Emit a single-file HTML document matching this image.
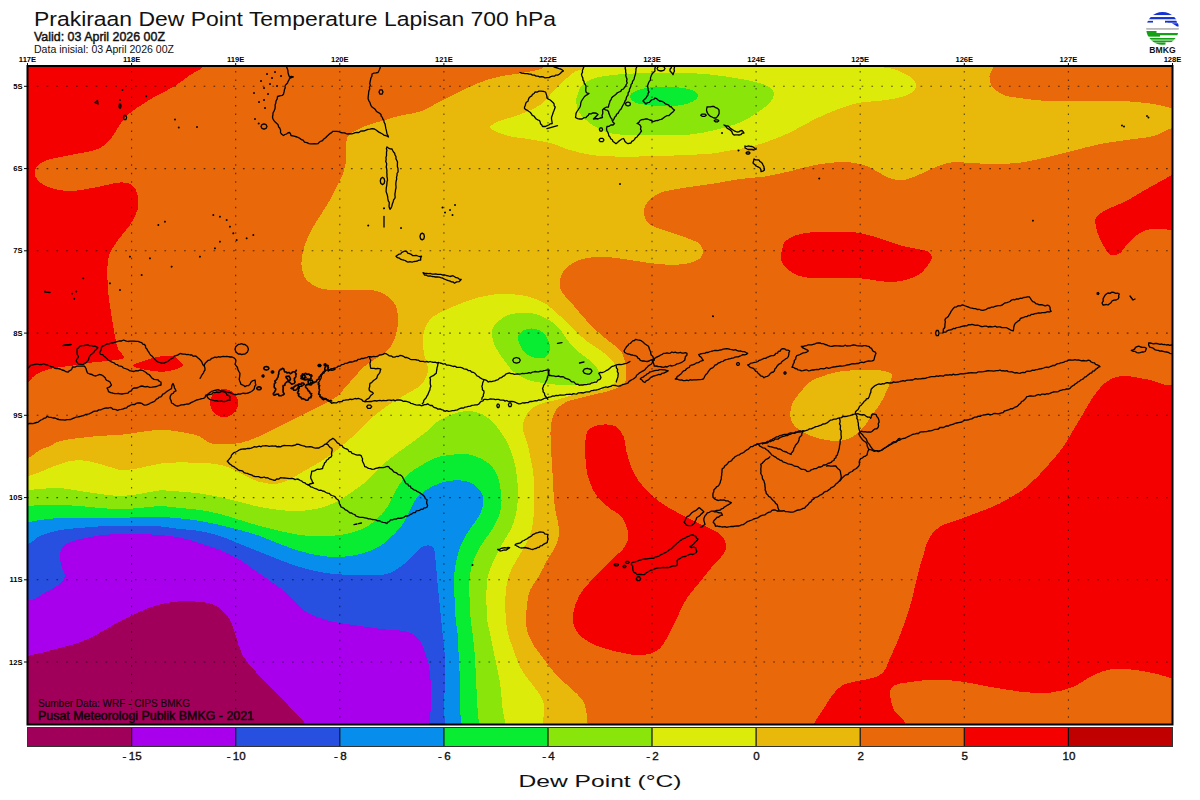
<!DOCTYPE html>
<html><head><meta charset="utf-8"><title>Prakiraan Dew Point</title>
<style>
html,body{margin:0;padding:0;background:#fff;}
body{width:1200px;height:800px;overflow:hidden;position:relative;font-family:"Liberation Sans",sans-serif;}
svg{position:absolute;left:0;top:0;}
.gv{stroke:#000;stroke-opacity:.62;stroke-width:1.1;stroke-dasharray:1.5 6.99;}
.gh{stroke:#000;stroke-opacity:.62;stroke-width:1.1;stroke-dasharray:1.7 8.12;}
.tl{font:bold 7.6px "Liberation Sans",sans-serif;text-anchor:middle;fill:#000;}
.ll{font:bold 7.6px "Liberation Sans",sans-serif;text-anchor:end;fill:#000;}
.cl{font:11.6px "Liberation Sans",sans-serif;text-anchor:middle;fill:#111;stroke:#111;stroke-width:0.35;}
.bm{font:bold 8.6px "Liberation Sans",sans-serif;text-anchor:middle;fill:#111;}
.coast{fill:none;stroke:#000;stroke-width:1.3;stroke-linejoin:round;stroke-linecap:round;}
</style></head>
<body>
<svg width="1200" height="800" viewBox="0 0 1200 800">
<defs><clipPath id="mc"><rect x="27.5" y="66" width="1145.0" height="658.5"/></clipPath></defs>
<g clip-path="url(#mc)">
<g shape-rendering="crispEdges">
<rect x="27.5" y="66" width="1145.0" height="658.5" fill="#e8680a"/>
<path d="M10 50C42.2 -8.3 170.8 47.3 203 50C235.2 52.7 205.7 61.8 203.5 66C201.3 70.2 194.8 71.7 190 75C185.2 78.3 180.8 82.4 175 86C169.2 89.6 161.2 92.9 155 96.5C148.8 100.1 142.5 104 137.5 107.5C132.5 111 128.5 113.8 125 117.5C121.5 121.2 119.4 125.8 116.5 130C113.6 134.2 111.1 139.2 107.5 142.5C103.9 145.8 101.2 147.9 95 150C88.8 152.1 78.3 153.2 70 155C61.7 156.8 50.8 158.5 45 161C39.2 163.5 36.2 166.8 35 170C33.8 173.2 35 177.1 37.5 180C40 182.9 44.6 185.7 50 187.5C55.4 189.3 62.5 191 70 191C77.5 191 86.7 188.9 95 187.5C103.3 186.1 113.8 182.8 120 182.5C126.2 182.2 129.6 183.4 132.5 185.5C135.4 187.6 136.7 190.9 137.5 195C138.3 199.1 138.8 205 137.5 210C136.2 215 133.2 220 130 225C126.8 230 121.3 235.3 118 240C114.7 244.7 111.8 248.7 110 253C108.2 257.3 107.9 261.5 107.5 266C107.1 270.5 107.3 274.9 107.5 280C107.7 285.1 108 290.4 108.7 296.7C109.4 303 110.8 311 111.8 317.6C112.8 324.2 114 331.1 115 336.3C116 341.5 116.6 345.4 118.1 348.9C119.6 352.4 124.7 355.6 124 357.5C123.3 359.4 119.1 359.5 113.9 360.3C108.7 361.1 100 361.5 93 362.4C86 363.3 79.2 364.6 72.2 365.6C65.2 366.7 57.2 367.3 51.3 368.7C45.4 370.1 40.5 371.6 36.7 373.9C32.9 376.2 31.1 379.3 28.3 382.3C25.5 385.3 23.1 389.1 20 392C16.9 394.9 11.7 457 10 400C8.3 343 -22.2 108.3 10 50Z" fill="#f40000"/>
<path d="M132.7 365.6C132.7 364 141 361.8 145.2 360.3C149.4 358.8 153.2 357.5 157.7 356.8C162.2 356.1 168.8 355.6 172.3 356.2C175.8 356.8 176.8 358.7 178.6 360.3C180.3 361.9 183.5 364 182.8 365.6C182.1 367.2 177.9 368.7 174.4 369.7C170.9 370.7 166.8 371.8 161.9 371.8C157 371.8 150.1 370.7 145.2 369.7C140.3 368.7 132.7 367.2 132.7 365.6Z" fill="#f40000"/>
<path d="M781.7 251.7C782.4 249.2 782.5 244.5 785 241.7C787.5 238.9 792.5 236.5 796.7 235C800.9 233.5 805 233.1 810 232.5C815 231.9 819.8 231.8 826.7 231.7C833.7 231.6 844.8 231.4 851.7 232C858.6 232.6 862.8 233.7 868.3 235C873.8 236.3 879.4 238.2 885 240C890.6 241.8 896.2 244.3 901.7 245.8C907.2 247.3 913.9 248.2 918.3 249.2C922.7 250.2 926.1 250.2 928.3 251.7C930.5 253.2 932 255.8 931.7 258.3C931.4 260.8 928.9 263.9 926.7 266.7C924.5 269.5 922.5 272.6 918.3 275C914.1 277.4 907.2 279.7 901.7 280.8C896.2 281.9 890.6 282 885 281.7C879.4 281.4 873.8 279.8 868.3 279.2C862.8 278.6 858.6 278.1 851.7 278C844.8 277.9 834.2 278.4 826.7 278.3C819.2 278.2 812.3 278.3 806.7 277.5C801.1 276.7 797.2 275.4 793.3 273.3C789.4 271.2 785.4 267.8 783.3 265C781.2 262.2 781.1 258.9 780.8 256.7C780.5 254.5 781 254.2 781.7 251.7Z" fill="#f40000"/>
<path d="M1190 165C1187 155.5 1176.8 172.3 1171.7 175.1C1166.6 177.9 1163.7 179.6 1159.3 182C1154.9 184.4 1150.2 187 1145.6 189.6C1141 192.2 1136.5 195.3 1131.9 197.8C1127.3 200.3 1122.5 202.6 1118.1 204.7C1113.7 206.8 1109.4 208 1105.7 210.2C1102 212.4 1097.7 214.8 1096.1 217.7C1094.5 220.6 1095.4 223.7 1096.1 227.4C1096.8 231.1 1098.6 236 1100.2 239.7C1101.8 243.3 1104 246.8 1105.7 249.3C1107.4 251.8 1108.2 254.1 1110.5 254.8C1112.8 255.5 1116.6 255.3 1119.5 253.5C1122.4 251.7 1124.5 247.1 1127.7 243.8C1130.9 240.5 1135 235.9 1138.7 233.5C1142.4 231.1 1145.1 230.1 1149.7 229.4C1154.3 228.7 1162.4 229.2 1166.2 229.4C1170 229.6 1168.4 230 1172.4 230.4C1176.4 230.8 1187.1 242.9 1190 232C1192.9 221.1 1193 174.5 1190 165Z" fill="#f40000"/>
<path d="M586 436C586.9 431.4 588.2 429.8 590.9 427.9C593.6 426 598.2 424.9 602.2 424.6C606.2 424.3 611.7 424.3 615.2 426.2C618.7 428.1 621.5 431.7 623.4 436C625.3 440.3 625 446.2 626.6 452.2C628.2 458.1 630.1 465.7 633.1 471.7C636.1 477.7 639.9 482.9 644.5 488C649.1 493.1 654.8 498.3 660.7 502.6C666.7 506.9 673.7 510.5 680.2 514C686.7 517.5 693.2 520.5 699.7 523.7C706.2 527 714.9 530.2 719.2 533.5C723.5 536.8 724.9 540 725.7 543.2C726.5 546.5 726.3 549.2 724.1 553C721.9 556.8 716.8 561.1 712.7 566C708.6 570.9 704 576.8 699.7 582.2C695.4 587.6 690.5 592.5 686.7 598.4C682.9 604.3 680.2 611.4 677 617.9C673.8 624.4 670.5 632 667.2 637.4C664 642.8 661.8 647.4 657.5 650.4C653.2 653.4 647.7 655 641.2 655.3C634.7 655.6 626.6 653.9 618.5 652C610.4 650.1 599.5 647.4 592.5 643.9C585.5 640.4 579.5 635.8 576.2 630.9C573 626 572.5 620.7 573 614.7C573.5 608.8 575.7 601.7 579.5 595.2C583.3 588.7 590.3 581.7 595.7 575.7C601.1 569.8 607.1 564.4 612 559.5C616.9 554.6 622.3 550.8 625 546.5C627.7 542.2 628.8 538.4 628.2 533.5C627.7 528.6 625 521.5 621.7 517.2C618.5 512.9 613 511.3 608.7 507.5C604.4 503.7 599.2 499.9 595.7 494.5C592.2 489.1 589.3 481.5 587.6 475C585.9 468.5 585.6 462 585.3 455.5C585 449 585.1 440.6 586 436Z" fill="#f40000"/>
<path d="M1190 370C1187 310.8 1178.4 383.3 1171.7 385C1165 386.7 1158.1 381.5 1150 380C1141.9 378.5 1130.5 375.7 1123.3 376C1116.1 376.3 1111.7 378.2 1106.7 381.7C1101.7 385.1 1097.2 391.4 1093.3 396.7C1089.4 402 1086.6 407.8 1083.3 413.3C1080 418.9 1076.6 424.4 1073.3 430C1070 435.6 1067.7 440.6 1063.3 446.7C1058.9 452.8 1052.8 460 1046.7 466.7C1040.6 473.4 1034.5 480.6 1026.7 486.7C1018.9 492.8 1010 498.3 1000 503.3C990 508.3 976.7 512.8 966.7 516.7C956.7 520.6 946.4 522.8 940 526.7C933.6 530.6 931.1 535 928.3 540C925.5 545 924.4 552.3 923 556.7C921.6 561.1 921.3 561.4 920 566.3C918.7 571.2 916.7 579.6 915 586.3C913.3 593 912 599.6 910 606.3C908 613 905.6 619.8 903.3 626.3C901 632.8 898.1 640 896 645C893.9 650 892.7 652 890.7 656.3C888.7 660.6 886.9 667.4 884.2 670.9C881.5 674.4 879.4 675.6 874.5 677.4C869.6 679.2 860.4 680.2 855 681.6C849.6 683 845.8 683.2 842 685.5C838.2 687.8 835.2 691.5 832.2 695.3C829.2 699.1 827.1 703.6 824.1 708.2C821.1 712.8 816.8 717.6 814.4 722.9C812 728.2 747.4 737.1 810 740C872.6 742.9 1126.7 801.7 1190 740C1253.3 678.3 1193 429.2 1190 370Z" fill="#f40000"/>
<path d="M908 740C860.6 737.1 907.7 727.9 905.4 722.9C903.1 717.9 896.5 714.5 894 709.9C891.5 705.3 890.1 699.4 890.1 695.3C890.1 691.2 890.1 687.8 894 685.5C897.9 683.2 906.5 682.6 913.5 681.6C920.5 680.6 928.1 679.6 936.2 679.6C944.3 679.6 953 680.4 962.2 681.6C971.4 682.9 981.2 685.4 991.5 687.1C1001.8 688.8 1014.2 691.1 1024 692C1033.8 692.9 1041.9 693.4 1050 692.6C1058.1 691.8 1065.7 689.9 1072.7 687.1C1079.7 684.3 1085.7 678.7 1092.2 675.7C1098.7 672.7 1104.7 670.2 1111.7 669.2C1118.8 668.2 1126.9 669.1 1134.5 669.9C1142.1 670.7 1151 672.7 1157.2 674.1C1163.4 675.5 1166.4 677 1171.9 678.3C1177.4 679.6 1187 671.7 1190 682C1193 692.3 1237 730.3 1190 740C1143 749.7 955.4 742.9 908 740Z" fill="#e8680a"/>
<path d="M543.8 50C618.8 47.2 918.4 47.4 993.3 50C1068.2 52.6 993.9 61.6 993.3 65.9C992.7 70.2 989.8 72.7 989.5 76C989.2 79.3 990.4 83.5 991.7 86C993 88.5 995.1 89.6 997.5 91.2C999.9 92.8 1002.3 94.7 1005.8 95.8C1009.3 96.8 1014.1 97.2 1018.3 97.8C1022.5 98.4 1026.1 99 1030.8 99.5C1035.5 100 1039.6 100.5 1046.7 100.8C1053.8 101 1064.4 101 1073.3 101C1082.2 101 1091.1 100.8 1100 100.8C1108.9 100.8 1117.8 100.8 1126.7 101.3C1135.6 101.8 1146 102.9 1153.3 104C1160.6 105.1 1164.6 106.7 1170.7 108C1176.8 109.3 1186.8 109 1190 112C1193.2 115 1192.9 123.3 1190 126C1187.1 128.7 1178.6 126.3 1172.5 128C1166.4 129.7 1160.9 134 1153.3 136C1145.7 138 1135.6 138.7 1126.7 140C1117.8 141.3 1108.9 142.2 1100 144C1091.1 145.8 1082.2 148.5 1073.3 150.7C1064.4 152.9 1055.6 155.3 1046.7 157.3C1037.8 159.3 1028.9 161.6 1020 162.7C1011.1 163.8 1002.2 164 993.3 164C984.4 164 973.4 163 966.7 162.7C960 162.4 957.8 161.7 953.3 162.1C948.8 162.5 944.9 163.6 940 165.3C935.1 167 929.3 170.2 924 172.5C918.7 174.8 912.5 177.8 908 179C903.5 180.2 900.8 180.3 897.3 180C893.8 179.7 890.7 178.8 886.7 177C882.7 175.2 877.8 171.5 873.3 169.3C868.8 167.1 865.5 165.2 860 164C854.5 162.8 847.5 161.8 840 162C832.5 162.2 823.3 163.5 815 165C806.7 166.5 798.3 169.3 790 171.2C781.7 173.2 773.3 175.2 765 176.5C756.7 177.8 747.8 177.9 740 179C732.2 180.1 724.9 181.7 718.1 182.8C711.3 183.9 705.6 184.7 699.4 185.6C693.1 186.5 686.9 187.3 680.6 188.4C674.4 189.5 666.9 190.5 661.9 192.2C656.9 193.9 653.4 196.5 650.6 198.8C647.8 201.2 646.1 203.8 645 206.3C643.9 208.8 643.8 211.3 644.1 213.8C644.4 216.3 645.2 219.1 646.9 221.3C648.6 223.5 650.3 225 654.4 226.9C658.5 228.8 665.4 230.5 671.3 232.5C677.2 234.5 685.3 237.2 690 239.1C694.7 241 697.2 241.8 699.4 243.8C701.6 245.8 703.1 248.8 703.1 251.3C703.1 253.8 701.9 256.8 699.4 258.8C696.9 260.8 692.8 262.4 688.1 263.4C683.4 264.4 677.2 264.8 671.3 264.8C665.4 264.8 658.8 264.1 652.5 263.4C646.2 262.7 640 261.5 633.8 260.6C627.5 259.7 621.2 258.4 615 257.8C608.8 257.2 602.5 256.4 596.3 256.9C590 257.4 582.8 258.4 577.5 260.6C572.2 262.8 567.4 266.6 564.4 270C561.4 273.4 560.1 277.6 559.7 281.3C559.3 285 559.6 287.9 562 292C564.4 296.1 570 301.3 574 306C578 310.7 582 315.7 586 320C590 324.3 594 328.3 598 332C602 335.7 606.3 339 610 342C613.7 345 617.7 347.3 620 350C622.3 352.7 623 355.3 624 358C625 360.7 625.7 363 626 366C626.3 369 626.3 373 626 376C625.7 379 626.3 381.7 624 384C621.7 386.3 616.7 388.3 612 390C607.3 391.7 601.3 392.7 596 394C590.7 395.3 585 396.7 580 398C575 399.3 570 400 566 402C562 404 558.3 407 556 410C553.7 413 552.9 416.3 552 420C551.1 423.7 550.6 426.8 550.5 432C550.4 437.2 550.8 445.1 551.1 451C551.4 456.9 551.9 462.1 552.2 467.6C552.6 473.2 552.9 478.9 553.2 484.3C553.5 489.7 553.5 494.9 554 500C554.5 505.1 555.3 510 556.2 515C557.1 520 559.2 525 559.2 530C559.2 535 558.2 540 556.2 545C554.2 550 550 555 547.2 560C544.5 565 542.6 570 539.7 575C536.8 580 532.1 585 530 590C527.9 595 527.6 600 527 605C526.4 610 526.1 615.3 526.2 620C526.3 624.7 526.4 628.8 527.8 633.2C529.2 637.6 532 642.5 534.4 646.5C536.8 650.5 539.8 653.6 542.4 657.1C545 660.6 547.4 664.2 550.3 667.7C553.2 671.2 556.1 674.8 559.6 678.3C563.1 681.8 567.8 685.4 571.5 688.9C575.2 692.4 579.7 696 582.1 699.5C584.5 703 585.2 706.1 586.1 710.1C587 714.1 587.1 718.3 587.4 723.3C587.7 728.3 684.2 737.2 588 740C491.8 742.8 106.3 786.3 10 740C-86.3 693.7 7 509 10 462C13 415 23 460 28 458C33 456 36.3 452 40 450C43.7 448 46.4 447.6 50 446C53.6 444.4 54.5 442.3 61.7 440.7C68.9 439.1 82.6 437.6 93 436.5C103.4 435.4 115.6 435.3 124.3 434.4C133 433.5 138.9 432.1 145.2 431.3C151.5 430.5 156.7 429.8 161.9 429.8C167.1 429.8 170.6 430.4 176.5 431.3C182.4 432.2 191.8 433.6 197.4 435.5C203 437.4 205.9 441.6 210 443C214.1 444.4 217 444 222 444C227 444 233.7 444.3 240 443C246.3 441.7 253.3 438.8 260 436C266.7 433.2 273.3 429.3 280 426C286.7 422.7 293.3 419.3 300 416C306.7 412.7 314 409.2 320 406C326 402.8 332.2 399.7 336 397C339.8 394.3 340.7 392.5 343 390C345.3 387.5 347.5 384.8 350 382C352.5 379.2 355.5 375.7 358 373C360.5 370.3 362.7 368 365 366C367.3 364 369.5 362.7 372 361C374.5 359.3 377.2 358 380 356C382.8 354 386.7 351.7 389 349C391.3 346.3 392.7 343.2 394 340C395.3 336.8 396.3 333.3 397 330C397.7 326.7 398 323.3 398 320C398 316.7 397.8 313.2 397 310C396.2 306.8 395.2 303.7 393 301C390.8 298.3 387.8 295.8 384 294C380.2 292.2 377.3 290.7 370 290C362.7 289.3 348.3 290.3 340 290C331.7 289.7 325.6 290 320 288.3C314.4 286.6 309.8 283.6 306.7 280C303.6 276.4 302.4 271.1 301.7 266.7C301 262.2 301.9 257.8 302.7 253.3C303.5 248.9 304.9 244.4 306.7 240C308.5 235.6 310.8 231.1 313.3 226.7C315.8 222.2 318.9 217.8 321.7 213.3C324.5 208.9 327.5 204.4 330 200C332.5 195.6 334.6 190.9 336.7 186.7C338.8 182.5 340.9 179.4 342.5 175C344.1 170.6 345.6 165 346.2 160C346.9 155 345.8 149.2 346.2 145C346.7 140.8 345.9 138.1 349 135C352.1 131.9 359 128.8 365 126.2C371 123.8 378.7 121.9 385 120C391.3 118.1 397.2 116.4 403 115C408.8 113.6 414.4 113.7 420 111.7C425.6 109.8 431.1 106.1 436.7 103.3C442.2 100.5 447.8 97.8 453.3 95C458.9 92.2 464.4 89.2 470 86.7C475.6 84.2 481.1 81.8 486.7 80C492.2 78.2 497.8 76.9 503.3 75.8C508.9 74.7 514.4 74.3 520 73.3C525.6 72.3 532.8 71.1 536.7 70C540.6 68.9 542.1 70 543.3 66.7C544.5 63.4 468.8 52.8 543.8 50Z" fill="#e8b80a"/>
<path d="M790.2 414C790.2 410.6 791 406.1 792.5 402.7C794 399.3 796.4 397.1 799.2 393.7C802 390.3 805.8 385.3 809.4 382.5C813 379.7 815.9 378.7 820.6 376.9C825.3 375.1 831.9 372.9 837.5 371.8C843.1 370.7 848.8 370.6 854.4 370.3C860 370 866.5 369.8 871.2 369.9C875.9 370 879.1 370 882.5 370.7C885.9 371.4 890.2 372.3 891.5 374.1C892.8 375.9 891.3 378.3 890.4 381.4C889.5 384.5 887.6 388.9 885.9 392.6C884.2 396.4 882.3 400.5 880.2 403.9C878.1 407.3 875.8 409.7 873.5 412.9C871.2 416.1 869 420 866.7 423C864.5 426 862.6 428.5 860 430.9C857.4 433.3 854.4 435.9 851 437.6C847.6 439.3 843.8 440.6 839.7 441C835.6 441.4 830.7 440.6 826.2 439.9C821.7 439.1 817.2 438.2 812.7 436.5C808.2 434.8 802.6 431.9 799.2 429.7C795.8 427.4 794 425.6 792.5 423C791 420.4 790.2 417.4 790.2 414Z" fill="#e8b80a"/>
<path d="M586 50C536.7 52.8 586.8 63.1 585 66.7C583.2 70.3 578 69.8 575 71.7C572 73.6 569.5 75.8 566.7 78.3C563.9 80.8 561.1 83.9 558.3 86.7C555.5 89.5 553 92 550 95C547 98 543.9 102.2 540 105C536.1 107.8 531.2 109.8 526.7 111.7C522.2 113.7 517.8 115.2 513.3 116.7C508.8 118.2 503.6 119.4 500 120.8C496.4 122.2 493.6 123.8 492 125C490.4 126.2 489.8 126.9 490.5 128C491.2 129.1 492.5 130.2 496 131.7C499.5 133.1 506.9 135.6 511.7 136.7C516.5 137.8 518.6 137.4 525 138.5C531.4 139.6 542.5 141.1 550 143C557.5 144.9 562.3 147.9 570 150C577.7 152.1 585.7 154.5 596.3 155.6C606.9 156.7 621.3 156.6 633.8 156.6C646.3 156.6 658.8 156.1 671.3 155.6C683.8 155.1 699.4 154.6 708.8 153.8C718.2 153 721.5 151.9 727.5 150.9C733.5 149.9 738.8 149.4 745 148C751.2 146.6 757.5 145.1 765 142.5C772.5 139.9 781.7 136.4 790 132.5C798.3 128.6 806.7 123 815 119C823.3 115 832.5 111.2 840 108.5C847.5 105.8 852.2 104.1 860 102.7C867.8 101.3 878.7 101.3 886.7 100C894.7 98.7 903.1 96.9 908 94.7C912.9 92.5 915.5 89.6 916 86.7C916.5 83.8 914.2 80.2 910.7 77.3C907.2 74.4 899.6 71.2 894.7 69.3C889.8 67.4 883.6 69.1 881.3 65.9C879 62.7 930.2 52.6 881 50C831.8 47.4 635.3 47.2 586 50Z" fill="#dceb0a"/>
<path d="M10 478C13 434 23 477 28 476C33 475 34.7 474 40 472C45.3 470 53.7 466 60 464C66.3 462 72 460.2 78 460C84 459.8 90.7 461.8 96 463C101.3 464.2 105.7 465.8 110 467C114.3 468.2 117 469.8 122 470C127 470.2 133.7 469.1 140 468C146.3 466.9 153.3 464.5 160 463.6C166.7 462.7 173.3 462.5 180 462.4C186.7 462.3 194 462.7 200 463C206 463.3 211 463.2 216 464C221 464.8 225 466 230 468C235 470 241 473.7 246 476C251 478.3 255 480.7 260 482C265 483.3 271.7 484.2 276 484C280.3 483.8 282.7 482.3 286 481C289.3 479.7 292.7 477.8 296 476C299.3 474.2 302 472.3 306 470C310 467.7 315.7 464.7 320 462C324.3 459.3 328 457 332 454C336 451 339.3 448 344 444C348.7 440 355 434.7 360 430C365 425.3 369 420.3 374 416C379 411.7 384 408 390 404C396 400 404.7 395.3 410 392C415.3 388.7 419 387.7 422 384C425 380.3 427.7 375 428 370C428.3 365 424.8 359.3 424 354C423.2 348.7 422.7 342.7 423 338C423.3 333.3 424.2 329.7 426 326C427.8 322.3 430 319 434 316C438 313 444 310.7 450 308C456 305.3 463.3 302.2 470 300C476.7 297.8 483.3 296 490 295C496.7 294 503.3 293.7 510 294C516.7 294.3 524 295.3 530 297C536 298.7 541 300.8 546 304C551 307.2 555.3 311.7 560 316C564.7 320.3 569.3 325.7 574 330C578.7 334.3 583.7 338.7 588 342C592.3 345.3 596.3 347.3 600 350C603.7 352.7 607.3 355.3 610 358C612.7 360.7 614.7 363 616 366C617.3 369 618.3 373 618 376C617.7 379 617 381.7 614 384C611 386.3 605 388.5 600 390C595 391.5 589 392 584 393C579 394 574.7 394.8 570 396C565.3 397.2 561 398.7 556 400C551 401.3 544.3 402.3 540 404C535.7 405.7 532.7 407.3 530 410C527.3 412.7 525.2 416.7 524 420C522.8 423.3 522.5 426.3 523 430C523.5 433.7 525.7 437 527 442C528.3 447 529.8 453.7 531 460C532.2 466.3 533.5 473.3 534 480C534.5 486.7 534.2 494.2 534.2 500C534.2 505.8 534.2 510 533.7 515C533.2 520 532.9 525 531.5 530C530.1 535 528 540 525.5 545C523 550 519.2 555 516.5 560C513.8 565 510.8 570 509 575C507.2 580 506.6 585 506 590C505.4 595 505.2 600 505.2 605C505.2 610 505.6 615.3 506 620C506.4 624.7 506.7 628.4 507.9 633.2C509.1 638.1 511.2 643.6 513.2 649.1C515.2 654.6 517.7 661.8 519.9 666.4C522.1 671 523.9 673.2 526.5 677C529.1 680.8 533.1 685.1 535.8 688.9C538.4 692.6 541 696 542.4 699.5C543.8 703 544.4 706.1 544.4 710.1C544.4 714.1 542.8 718.3 542.4 723.3C542 728.3 630.7 737.2 542 740C453.3 742.8 98.7 783.7 10 740C-78.7 696.3 7 522 10 478Z" fill="#dceb0a"/>
<path d="M577.5 95C578.5 92.1 579.2 87.9 582.5 85C585.8 82.1 590 79.4 597.5 77.5C605 75.6 616.2 74.6 627.5 73.8C638.8 72.9 652.5 72.5 665 72.5C677.5 72.5 690 72.7 702.5 73.8C715 74.8 729.6 76.9 740 78.8C750.4 80.6 759.4 82.7 765 85C770.6 87.3 772.9 89.6 773.8 92.5C774.6 95.4 772.7 99.2 770 102.5C767.3 105.8 762.5 109.2 757.5 112.5C752.5 115.8 747.1 119.6 740 122.5C732.9 125.4 723.3 128 715 130C706.7 132 699.2 133.7 690 134.5C680.8 135.3 670.4 134.9 660 135C649.6 135.1 636.2 135.4 627.5 135C618.8 134.6 613.3 134.2 607.5 132.5C601.7 130.8 597.1 128.1 592.5 125C587.9 121.9 582.7 117.5 580 113.8C577.3 110 576.7 105.6 576.2 102.5C575.8 99.4 576.5 97.9 577.5 95Z" fill="#8ae60a"/>
<path d="M492 336C491.7 332.3 491.7 329.3 494 326C496.3 322.7 501.7 318.2 506 316C510.3 313.8 515 313.3 520 313C525 312.7 530.7 312.5 536 314C541.3 315.5 547.7 319 552 322C556.3 325 558.7 328 562 332C565.3 336 568.3 342 572 346C575.7 350 580.3 353 584 356C587.7 359 591.3 361 594 364C596.7 367 599.3 371.5 600 374C600.7 376.5 600 377.5 598 379C596 380.5 591.7 382 588 383C584.3 384 580.7 384.7 576 385C571.3 385.3 565.3 385.3 560 385C554.7 384.7 549.3 383.8 544 383C538.7 382.2 533 381.8 528 380C523 378.2 518 375.3 514 372C510 368.7 507 364 504 360C501 356 498 352 496 348C494 344 492.3 339.7 492 336Z" fill="#8ae60a"/>
<path d="M10 490C13 448.3 23 490.2 28 490C33 489.8 34.7 489.3 40 489C45.3 488.7 53.3 487.7 60 488C66.7 488.3 73.3 490 80 491C86.7 492 93.3 493.2 100 494C106.7 494.8 113.3 496 120 496C126.7 496 133.3 494.9 140 494C146.7 493.1 153.3 490.8 160 490.4C166.7 490 173.3 491.1 180 491.6C186.7 492.1 193.3 492.6 200 493.5C206.7 494.4 213.3 495.6 220 497C226.7 498.4 233.3 500.3 240 502C246.7 503.7 253.3 505.7 260 507C266.7 508.3 273.3 509.3 280 510C286.7 510.7 293.3 511.3 300 511C306.7 510.7 314 509.5 320 508C326 506.5 330.7 504.7 336 502C341.3 499.3 346.7 495.7 352 492C357.3 488.3 363.7 483.8 368 480C372.3 476.2 374 472.8 378 469C382 465.2 386.7 461.2 392 457C397.3 452.8 404.3 448.2 410 444C415.7 439.8 421 436 426 432C431 428 434.3 423.3 440 420C445.7 416.7 454 413.3 460 412C466 410.7 471.3 411 476 412C480.7 413 484.5 415.5 488 418C491.5 420.5 493.8 422.9 497 427C500.2 431.1 504.5 437.2 507.3 442.6C510.1 448 512 453.4 513.6 459.3C515.2 465.2 516.5 471.2 517.2 478C517.9 484.8 518 493.8 517.7 500C517.5 506.2 516.9 510 515.7 515C514.5 520 512.9 525 510.5 530C508.1 535 504.2 540 501.5 545C498.8 550 496.2 555 494 560C491.8 565 489.2 570 488 575C486.8 580 486.8 585 486.5 590C486.2 595 486.4 600 486.5 605C486.6 610 486.6 615.3 487.2 620C487.8 624.7 488.7 626.7 490 633C491.3 639.3 493.3 649.7 495 658C496.7 666.3 498.8 674.7 500 683C501.2 691.3 501.7 701.3 502.5 708C503.3 714.7 504.6 717.7 505 723C505.4 728.3 587.5 737.2 505 740C422.5 742.8 92.5 781.7 10 740C-72.5 698.3 7 531.7 10 490Z" fill="#8ae60a"/>
<path d="M630 96.2C630 94.4 631.7 92.7 635 91.2C638.3 89.8 644.2 88.2 650 87.5C655.8 86.8 663.8 86.8 670 87C676.2 87.2 682.9 87.6 687.5 88.8C692.1 89.9 696.2 91.9 697.5 93.8C698.8 95.6 697.5 98.1 695 100C692.5 101.9 687.5 104 682.5 105C677.5 106 670.8 106.2 665 106.2C659.2 106.2 652.5 105.6 647.5 105C642.5 104.4 637.9 104 635 102.5C632.1 101 630 98.1 630 96.2Z" fill="#08ec32"/>
<path d="M518 338C518 334.3 521 331.5 524 330C527 328.5 532.3 328 536 329C539.7 330 543.7 332.8 546 336C548.3 339.2 550 344.5 550 348C550 351.5 548.3 355.3 546 357C543.7 358.7 539.7 358.8 536 358C532.3 357.2 527 355.3 524 352C521 348.7 518 341.7 518 338Z" fill="#08ec32"/>
<path d="M10 506C13 467 23 506.2 28 506C33 505.8 34.7 505.2 40 505C45.3 504.8 53.3 504.8 60 505C66.7 505.2 73.3 505.5 80 506C86.7 506.5 93.3 507.5 100 508C106.7 508.5 113.3 509 120 509C126.7 509 133.3 508.5 140 508C146.7 507.5 153.3 506 160 506C166.7 506 173.3 507.3 180 508C186.7 508.7 193.3 509 200 510C206.7 511 213.3 512.3 220 514C226.7 515.7 233.3 518 240 520C246.7 522 253.3 524.2 260 526C266.7 527.8 273.3 529.5 280 531C286.7 532.5 293.3 534.1 300 535C306.7 535.9 313.3 536.4 320 536.4C326.7 536.4 333.3 536.1 340 535C346.7 533.9 354 532.5 360 530C366 527.5 371.3 524 376 520C380.7 516 384.7 511 388 506C391.3 501 393 495 396 490C399 485 402 480 406 476C410 472 415.2 469 420 466C424.8 463 430.2 459.8 435 458C439.8 456.2 443.5 455.8 448.9 455.1C454.3 454.5 462 453.4 467.6 454.1C473.2 454.8 478.1 457.1 482.3 459.3C486.5 461.6 489.9 464.1 492.7 467.6C495.5 471.1 497.4 474.8 498.9 480.2C500.4 485.6 501.4 494.2 501.5 500C501.6 505.8 500.8 510 499.2 515C497.6 520 494.7 525 491.7 530C488.7 535 484.2 540 481.2 545C478.2 550 475.6 555 473.7 560C471.8 565 470.8 570 470 575C469.2 580 469.2 585 469.2 590C469.2 595 469.8 600 470 605C470.2 610 470.3 615.3 470.7 620C471.1 624.7 471.8 626.7 472.5 633C473.2 639.3 474.4 649.7 475 658C475.6 666.3 475.8 674.7 476.2 683C476.7 691.3 477.1 701.3 477.5 708C477.9 714.7 478.5 717.7 478.8 723C479 728.3 557.1 737.2 479 740C400.9 742.8 88.2 779 10 740C-68.2 701 7 545 10 506Z" fill="#08ec32"/>
<path d="M10 522C13 485.7 23 522.3 28 522C33 521.7 34.7 520.7 40 520C45.3 519.3 53.3 518.4 60 518C66.7 517.6 73.3 517.6 80 517.6C86.7 517.6 93.3 517.9 100 518C106.7 518.1 113.3 518.2 120 518C126.7 517.8 133.3 517.2 140 517C146.7 516.8 153.3 516.8 160 517C166.7 517.2 173.3 517.7 180 518.4C186.7 519.1 193.3 519.9 200 521C206.7 522.1 213.3 523.5 220 525C226.7 526.5 233.3 528.2 240 530C246.7 531.8 253.3 533.7 260 536C266.7 538.3 273.3 541.5 280 544C286.7 546.5 293.3 549.1 300 551C306.7 552.9 313.3 554.6 320 555.6C326.7 556.6 333.3 557.3 340 557C346.7 556.7 353.3 555.8 360 554C366.7 552.2 374 549.7 380 546C386 542.3 392 536 396 532C400 528 401.7 525.7 404 522C406.3 518.3 408 513.8 410 510C412 506.2 413.3 502.3 416 499C418.7 495.7 421.6 492.8 426 490C430.4 487.2 437.1 483.9 442.6 482.3C448.2 480.7 454.4 480 459.3 480.2C464.2 480.4 468.3 481.6 471.8 483.3C475.3 485 478.2 487.8 480.2 490.6C482.1 493.4 483.6 495.9 483.5 500C483.4 504.1 482.1 510 479.7 515C477.3 520 472.3 525 469.2 530C466.1 535 463.1 540 461 545C458.9 550 457.6 555 456.5 560C455.4 565 454.6 570 454.2 575C453.8 580 454.1 585 454.2 590C454.3 595 454.8 600 455 605C455.2 610 455.3 615.3 455.7 620C456.1 624.7 457 626.7 457.5 633C458 639.3 458.3 649.7 458.8 658C459.2 666.3 459.8 674.7 460 683C460.2 691.3 459.8 701.3 460 708C460.2 714.7 461.1 717.7 461.2 723C461.4 728.3 536.2 737.2 461 740C385.8 742.8 85.2 776.3 10 740C-65.2 703.7 7 558.3 10 522Z" fill="#078deb"/>
<path d="M10 546C13 513.3 23 545.7 28 544C33 542.3 34.7 538.3 40 536C45.3 533.7 53.3 531.3 60 530C66.7 528.7 73.3 528.6 80 528C86.7 527.4 93.3 526.7 100 526.4C106.7 526.1 113.3 526.1 120 526C126.7 525.9 133.3 525.9 140 526C146.7 526.1 153.3 525.9 160 526.4C166.7 526.9 173.3 528.2 180 529C186.7 529.8 193.3 529.8 200 531C206.7 532.2 213.3 533.8 220 536C226.7 538.2 233.3 541.3 240 544C246.7 546.7 253.3 549.3 260 552C266.7 554.7 273.3 557.5 280 560C286.7 562.5 293.3 565 300 567C306.7 569 313.3 570.8 320 572C326.7 573.2 333.3 573.9 340 574.4C346.7 574.9 353.3 574.9 360 575C366.7 575.1 374.7 575.5 380 575C385.3 574.5 388 573.8 392 572C396 570.2 400.3 567 404 564C407.7 561 411 556.8 414 554C417 551.2 419.5 548.4 422 547C424.5 545.6 427 545.2 429 545.5C431 545.8 432.8 545.8 434 549C435.2 552.2 435.4 559.3 436 565C436.6 570.7 436.8 575.8 437.5 583C438.2 590.2 439.2 599.7 440 608C440.8 616.3 441.7 624.7 442.5 633C443.3 641.3 444.6 649.7 445 658C445.4 666.3 445.2 674.7 445 683C444.8 691.3 443.8 701.3 443.8 708C443.8 714.7 444.8 717.7 445 723C445.2 728.3 517.5 737.2 445 740C372.5 742.8 82.5 772.3 10 740C-62.5 707.7 7 578.7 10 546Z" fill="#2850e0"/>
<path d="M10 604C13.7 580.7 26 602 32 600C38 598 41.3 594.7 46 592C50.7 589.3 56.8 586.7 60 584C63.2 581.3 64.7 578.7 65 576C65.3 573.3 62.8 571 62 568C61.2 565 60 561.3 60 558C60 554.7 60.3 550.7 62 548C63.7 545.3 65.3 543.8 70 542C74.7 540.2 83.3 538.3 90 537C96.7 535.7 103.3 535 110 534.4C116.7 533.8 123.3 533.6 130 533.6C136.7 533.6 143.3 534 150 534.4C156.7 534.8 163.3 535.1 170 536C176.7 536.9 184.2 538.5 190 540C195.8 541.5 200 543.3 205 545C210 546.7 214.2 547.5 220 550C225.8 552.5 233.3 556 240 560C246.7 564 253.3 569.3 260 574C266.7 578.7 274.7 584 280 588C285.3 592 288.7 594.8 292 598C295.3 601.2 297 604.3 300 607C303 609.7 305 611.7 310 614C315 616.3 321.7 619 330 621C338.3 623 350 624.5 360 626C370 627.5 383.3 629.2 390 630C396.7 630.8 396.5 630 400 630.5C403.5 631 407.7 631.2 411 633C414.3 634.8 417.5 637.2 420 641C422.5 644.8 424.6 650.2 426.2 655.5C427.9 660.8 429.2 666.3 430 673C430.8 679.7 431.2 687.2 431.2 695.5C431.2 703.8 430.2 715.6 430 723C429.8 730.4 500 737.2 430 740C360 742.8 80 762.7 10 740C-60 717.3 6.3 627.3 10 604Z" fill="#a800ec"/>
<path d="M10 660C12.8 646 19.5 658 26.7 656.3C33.9 654.6 43.3 652.5 53.3 649.7C63.3 646.9 75.6 644.4 86.7 639.7C97.8 635 108.9 626.9 120 621.3C131.1 615.7 143.3 609.6 153.3 606.3C163.3 603 172.2 602 180 601.3C187.8 600.6 194.7 601.5 200 602C205.3 602.5 208.3 602.7 212 604C215.7 605.3 219 607.3 222 610C225 612.7 227.8 616.2 230 620C232.2 623.8 232.8 627 235 633C237.2 639 239.1 649.1 243.3 656.3C247.5 663.5 253.9 669.6 260 676.3C266.1 683 273.9 689.9 280 696.3C286.1 702.7 292.5 710.1 296.7 714.7C300.9 719.3 303.4 719.5 305 723.7C306.6 727.9 355.2 737.3 306 740C256.8 742.7 59.3 753.3 10 740C-39.3 726.7 7.2 674 10 660Z" fill="#a0005a"/>
<circle cx="224.1" cy="403.1" r="14" fill="#f40000"/>
</g>
<g class="coast">
<path d="M286.5 64 286.5 66.5 287.2 68.5 287.9 70.4 288 72.5 288.6 74.8 289.5 77 291.4 76.5 293.3 77 291.4 77.7 289.5 78.5 288.9 80.1 288 81.5 287.4 83.3 286 84.5 285 86 285.2 87.8 284.5 89.5 284.2 91.2 283.5 94.2 282.2 95.4 280.5 95.7 277.5 96.5 277.2 98.9 276 101 275.8 103 275.1 105 275.2 107 274.9 109.1 274 111.1 273 113 272.9 115 272.5 117 273 119 274 120.6 275.2 122 276.8 123.4 278.2 125 278.5 126.7 279.7 128 280.6 130.2 280.5 132.5 281.7 134.3 283.5 135.5 284.9 134.5 286.5 134 287.8 132.9 289.5 132.5 290.6 133.8 291 135.5 294 136.2 297 137 298.6 137.6 300 138.5 301.3 139.6 303 140 304.5 142.2 306.9 142.6 309 143.7 310.8 143.8 312.6 143.9 314.4 143.6 316.2 143.8 318 143.7 319.2 142.3 320.7 141.3 322.5 140.7 323.8 139 325.6 137.8 327 136.2 328.4 134.9 329.9 133.6 331.6 132.6 333 131.3 335 131.4 337 131.3 339 131.7 340.7 132.5 342.5 132.8 344.5 132.8 346.2 133.6 348 134 349.8 133.7 351.7 133.8 353.4 133.3 355.2 132.6 357 132.5 358.9 132.6 360.5 131.2 362.4 131 364.3 130.9 366 130.2 367.9 129.3 370 129.2 372 128.7 374.4 129 376.5 130.2 377.9 131.4 379.3 132.4 381 133.2 382.5 134 383.8 135.1 385.5 135.5 387.1 136.1 388.5 137 387.9 135.4 387 134 386.7 132.1 386.3 130.2 385.8 128.4 385.5 126.5 385.1 124.1 384 122 383.9 120.3 382.8 119 382.4 117.4 381.2 116.2 381 114.5 379.6 113.3 378.1 112.4 376.5 111.5 375.4 109.6 373.8 108.2 372 107 371 105.6 370.4 104.1 369.9 102.4 369 101 368.1 98.8 368.2 96.5 368.5 94.6 368.6 92.7 368.9 90.8 369.7 89 369.4 87.2 370.3 85.4 369.8 83.6 370.1 81.8 370.5 80 370.9 78 371.9 76.1 372 74 373.9 73.1 376 72.9 378 72.5 378.8 71 379.5 69.5 380.2 67.7 380.3 65.9 380.2 64"/>
<path d="M267 126.5 266.1 128.3 264 129.1 261.9 128.3 261 126.5 261.9 124.7 264 123.9 266.1 124.7 267 126.5"/>
<path d="M383 92 382 94.2 380 94.2 379 92 380 89.8 382 89.8 383 92"/>
<path d="M387 147 386.4 148.6 386.9 150.4 386.5 152 386.5 153.9 386.5 155.8 385.9 157.6 386.2 159.5 385.7 161.4 386.6 163.2 386.6 165.1 386.2 167 386.7 168.8 386.9 170.7 386.8 172.6 387 174.5 386.9 176.4 387.3 178.2 387.5 180.1 387 182 386.9 183.9 386.7 185.8 386.3 187.6 386.2 189.5 386.1 191.5 386.7 193.3 387.3 195.1 387.7 197 387.9 198.9 388.3 200.8 389.3 202.5 389.2 204.5 389 206.2 389.4 207.8 390 209.3 391.1 207.9 391.8 206.2 392.2 204.5 392.7 203 393.3 201.5 393.6 199.8 394.7 198.6 395.2 197 394.9 195.2 395 193.4 395.4 191.6 395.5 189.8 396 188 396 186.2 395.8 184.4 395.9 182.6 396.2 180.8 396.7 179 396.5 177.1 397.1 175.4 397 173.5 398.1 171.9 398 170 398 168.4 397.4 166.8 397.4 165.2 397.4 163.6 397.5 162 396.7 160.3 395.9 158.6 396 156.6 395 155 394.7 153.3 393.5 152 392.7 150.5 392 149 390.2 148.8 388.5 148.1 387 147"/>
<path d="M384.7 181 384.1 183.5 382.5 184.6 380.9 183.5 380.3 181 380.9 178.5 382.5 177.4 384.1 178.5 384.7 181"/>
<path d="M384 216.5 384 227"/>
<path d="M424.4 236.5 423.8 238.9 422.2 239.9 420.6 238.9 420 236.5 420.6 234.1 422.2 233.1 423.8 234.1 424.4 236.5"/>
<path d="M396 256.2 397.4 255.2 398.9 254.2 400.7 253.8 401.8 252.3 403.5 251.7 405 251 406.8 251.5 407.7 253.2 409.5 253.7 411.2 254.3 412.5 255.5 414.3 255.7 416.1 255.3 417.9 256 419.7 256.6 421.5 256.2 420.7 258 420.7 260 419 260.2 417.4 261 415.7 261.3 414 261.5 412 262.1 410 261.7 408 262.2 406.5 261.4 405.1 260.5 403.5 260 401.9 259.6 400.4 259.1 399.1 258 397.5 257.7 396 256.2"/>
<path d="M423 272.7 424.8 273.4 426.7 273.5 428.6 273.6 430.5 273.5 432.2 274.1 433.9 274.2 435.7 273.8 437.4 274.4 439.1 274.4 440.8 274.3 442.5 275 444.5 274.9 446.3 275.5 448.2 275.9 450 276.5 453 275.7 454.6 276.7 456.1 277.7 457.9 277.9 459.4 279.2 461.2 279.5 459 281.7 456.6 281.9 454.5 283.2 453.2 282 451.4 281.9 450 281 448.4 280.7 446.9 280.1 445.4 279.5 443.9 278.9 442.5 278 440.8 277.6 439.1 277.1 437.3 276.9 435.5 277 433.8 276.6 432 276.5 430.2 275.8 428.2 276.2 426.4 275.2 424.5 275 423 272.7"/>
<path d="M520 72.5 521.7 73.2 523.5 73.4 525.4 73.7 527.2 73.7 529 74 530.9 74.1 532.5 75.2 534.4 75.1 536.1 76.1 538 76.2 539.7 77 541.6 76.7 543.4 77 545.1 77.9 547 77.7 548.9 77.6 550.7 76.6 552.5 76.2 554.5 76.2 555.8 75.1 557.7 75.1 559.2 74.3 560.5 73.2 561.8 71.8 563.5 71 562.2 69.9 560.7 69 559.1 68.6 557.5 68 555.2 67.4 553 66.5"/>
<path d="M524.5 107 525.3 105.5 525.6 103.8 526.3 102.3 528 101.2 528.4 99.6 529 98 530.2 96.8 531.7 95.9 532.5 94.3 534.1 93.5 535 92 537 92.1 539 91.2 541 91.2 543.3 91.3 545.5 92 546.2 93.9 546.8 95.9 547 98 548.4 99.2 550.2 100 551.6 101.3 553 102.5 554.1 103.8 554.1 105.7 555.2 107 554.6 109.1 553.8 111 553 113 552.4 115 551.6 116.9 551.5 119 551.9 121.2 552.2 123.5 550.3 123.8 548.8 125 547.2 125.7 545.5 126.5 542.5 126.5 541.8 125 540.5 123.7 540.2 122 539.5 120.5 537.8 119.8 536.2 119 535 117.5 534 116.1 532.3 115.4 531.4 113.9 530.4 112.5 529 111.5 527.5 110.4 525.9 109.7 524.5 108.5 524.5 107"/>
<path d="M547 128.7 557.5 125.7"/>
<path d="M584.5 65 583.9 66.8 583.2 68.6 582.4 70.3 582.5 72.3 581.5 74 581.9 76 582.8 77.9 583 80 584 81.4 584.2 83.1 585.2 84.5 586 86 585.9 88 585.7 90 586 92 587.3 93.2 589 93.5 587.5 94.6 585.9 95.4 584.5 96.5 583.5 98 582.5 99.5 581.5 101 580.8 102.9 580.6 105 580 107 579 108.5 578 110 577 111.5 576 113.4 575.8 115.4 575.5 117.5 577.6 118.6 580 119 582.1 119 583.9 117.7 586 117.5 587.1 116.3 588.4 115.3 589 113.7 591 113.8 593 112.8 595 113 596.7 113.4 598 114.5 596.5 116 595 117.5 593.5 119 595.8 118.5 598 119 600.2 118 602.5 117.5 602 115.6 602.7 113.8 602.8 111.9 602.5 110 604 108.5 605.3 109.9 607.2 110.2 608.5 111.5 609 113.8 610 116 610.6 117.6 611.8 118.8 612.2 120.5 613 122.3 614.5 123.5 613 125 610.9 125 609.1 126.3 607 126.5 606.5 128.8 607 131 607.9 132.4 608.5 134 608.8 135.7 610 137 610.7 138.7 612.3 139.8 613 141.5 614.5 142.5 616 143.7 617.5 142.5 618.9 141.1 620.5 140 621.9 139 623.5 138.5 624.4 139.9 625 141.5 626.4 142.8 628 143.7 631 143 631.8 141.4 633.4 140.6 634.6 139.4 635.4 137.8 637 137 638 135.4 639.4 134.1 640.4 132.5 641.5 131 640.5 129.1 641 126.9 640 125 638.6 124 637 123.5 638.9 122.4 640 120.5 641.8 119.7 643.7 119.5 645.5 118.9 647.5 119 649.7 120 652 120.5 652 122 653.9 121.3 655.9 120.6 658 120.5 659.5 119.7 661.2 119.4 662.7 118.6 664 117.5 665.4 116.5 666.8 115.7 668.7 115.7 670 114.5 671.6 113.1 673.2 111.7 674.5 110 672.7 108.8 671.5 107 669.7 106.5 668.6 105 667 104.4 665.3 103.8 664 102.5 661.9 101.3 659.5 101 658.1 99.9 656.7 98.7 655 98 653.8 99.4 651.8 99.7 650.5 101 649.3 102.4 647.3 102.7 646 104 644.5 102.5 643 101 644.4 99.4 646 98 646.8 96.5 647.9 95.2 648 93.4 649 92 648.1 90.1 648 88 647.5 86 648 84.4 648.6 82.8 649.4 81.3 650.5 80 650.5 77.9 651.2 75.9 652 74 653.4 72.4 655 71 654.8 69 655.3 67 655 65"/>
<path d="M625 65 625.3 66.7 625.2 68.5 625.7 70.2 625.6 72 626.1 73.7 625.7 75.5 626.3 77.3 627 79.1 626.6 81.2 627.2 83 626.2 84.5 625.6 86.2 624.4 87.5 623.5 89 621.7 89.6 620.7 91.4 619 92 617.3 92.8 616 94.3 614.5 95.4 613 96.5 611.7 97.8 611.1 99.6 610 101 609.5 103 608.8 104.9 608.5 107 606.1 107.2 604 108.5"/>
<path d="M637 65 636.9 66.8 636 68.5 635.9 70.4 635.7 72.2 635.5 74 635 75.5 634.5 77.1 634.2 78.7 633.5 80.2 632.5 81.5 632.3 83.2 631.1 84.4 630.9 86.1 630.4 87.6 629.5 89 629.4 91.1 628.1 92.9 628 95 626.9 96.3 626.3 97.9 626 99.6 625 101 624.5 102.6 623.7 104.1 622.8 105.5 622 107 621.3 108.7 620 110 619 111.5 618.2 113.1 616.6 114.2 616 116 614.6 117.2 614 119 613 120.5"/>
<path d="M630.5 104 629.8 105.4 628 106 626.2 105.4 625.5 104 626.2 102.6 628 102 629.8 102.6 630.5 104"/>
<path d="M602.6 129.5 601.8 131.2 600.2 131.2 599.4 129.5 600.2 127.8 601.8 127.8 602.6 129.5"/>
<path d="M604 140 602.8 141.7 600.2 141.7 599 140 600.2 138.3 602.8 138.3 604 140"/>
<path d="M671.5 66 671.3 67.7 670 69.2 670 71 671.7 72.7 673 74.7 673.6 72.8 674.5 71 674 69.3 674.4 67.7 674.5 66"/>
<path d="M665 68.5 663.8 70.3 661 71 658.2 70.3 657 68.5 658.2 66.7 661 66 663.8 66.7 665 68.5"/>
<path d="M707 107 708.7 106.8 710.5 106.8 712.2 106.3 714 106.5 715.7 107.7 717.6 108.4 719 110 719.1 111.7 719.1 113.4 718.5 115 717.3 116.6 716 118 713.9 118 712 117 710.4 116.4 709.2 115.2 708 114 707 112.1 706.5 110 707 107"/>
<path d="M706.3 115.2 704.9 116.3 702.1 116.3 700.7 115.2 702.1 114.1 704.9 114.1 706.3 115.2"/>
<path d="M718.8 120.8 717.6 121.8 715.4 121.8 714.2 120.8 715.4 119.8 717.6 119.8 718.8 120.8"/>
<path d="M724 125 726 125.6 728 126 729.2 127 730.3 128.2 731.6 129.1 733 130 734.9 131.2 737 132 738.8 131.9 740.3 130.9 742 130.5 743.1 131.6 744 133 742.1 133.2 740.8 134.7 739 135 737.3 134.8 735.7 134.8 734 135 732.6 133.8 732 132 731 130.7 729.8 129.7 728.3 128.9 727 128 725.7 126.3 724 125"/>
<path d="M745 146 746.7 146.5 748.5 145.9 750.2 146.4 752 146.5 753.5 147.3 754.8 148.5 756.5 149 754 150 752 149.5 750 149.3 748 149.5 746.5 148.7 745 148 745 146"/>
<path d="M750 153 749 154 747 154 746 153 747 152 749 152 750 153"/>
<path d="M754 159 755.6 159.8 757.3 159.9 759 160 759.8 161.4 761.2 162.3 762.4 163.4 763 165 763.9 166.6 764.1 168.3 764.5 170 762.9 171.1 761 171.5 760.9 169.6 760 168 758 166.9 756 166 754.6 164.4 753 163 753.6 161 754 159"/>
<path d="M26 369 27.5 368.5 29.1 367.1 30.5 365.5 32.7 364.9 35 364.3 37.3 364 39.5 364.7 41.8 364.5 44 363.7 45.4 364.6 47 364.9 48.5 365.5 50 366.1 51.4 366.9 53.2 366.9 54.4 368.1 56 368.5 58.1 368.7 60.1 369 62 370 64.1 370.5 65.9 371.7 68 372.2 69.3 370.8 71 370 72 368.6 72.5 367 74.8 367.1 77 366.2 78.9 366.2 80.8 366.1 82.6 366.2 84.5 366.2 86 368.5 86.6 370.8 87.5 373 89.7 374 92 374.5 93.4 375.4 95 376 97.3 375.4 99.5 374.5 101.2 374.8 102.7 375.6 104 376.7 105.2 377.8 105.8 379.4 107 380.5 108.6 381.1 110 382 110.7 383.5 111.5 385 110.3 386.4 108.8 387.4 107 388 108 389.8 108.5 391.7 110.7 392.6 113 393.2 114.8 393.6 116.6 393.7 118.4 393.5 120.2 393.9 122 394 124 393.7 126 393.4 128 393.2 129.2 391.6 131.3 390.9 132.3 389 134 388 136.1 388 138.1 387.5 140 386.5 141.9 386 143.8 386.5 145.6 386.9 147.5 386.5 149.7 387.4 152 387.2 154.2 386.8 156.5 386.5 158.7 385.5 161 385 161 382 159.4 381.5 158.2 380 156.5 379.7 154.1 379.3 152 378.2 150.6 376.3 149 374.5 147.3 373.8 146 372.5 144.5 371.5 142.4 370.3 140 370 138.1 370.9 135.9 370.7 134 371.5 131.8 371.1 129.5 370.7 128.2 369.6 126.6 369 125 368.5 123.4 368 122.2 366.6 120.5 366.2 118.8 365.9 117.5 364.7 115.8 364.4 114.5 363.2 113 362.5 111.4 361.9 110 361 108.2 360 106.9 358.6 105.5 357.2 103.9 356.2 102.7 354.7 100.7 354.3 99.5 352.7 100.5 351.1 101.3 349.5 101.4 347.5 102.5 346 104.2 345.7 105.6 344.7 107 343.7 109.1 343.9 111 343 113 343 115.2 342.1 117.5 341.5 119.5 340.9 121.6 341 123.5 340 125.7 340.8 128 341.5 130 341.2 132 341.2 134 341.2 136 341.3 138.1 341.4 140 342.2 141.7 342.6 142.8 344.1 144.5 344.5 145.5 345.9 145.6 347.7 147 348.9 147.5 350.5 148.7 351.9 149.5 353.5 150.5 355 152.2 356.3 153.6 357.9 155 359.5 156.2 360.9 157.8 361.9 159.5 362.5 161.7 363.2 164 363.2 165.6 362.4 167.2 361.7 168.8 360.8 170 359.5 171.5 358.6 173.1 357.8 174.2 356.2 176 355.7 177.6 355.2 179 354.2 180.5 353.5 182.7 354.1 185 354.2 186.6 354.6 188.4 354.5 190 355 191.8 354.9 193.2 356.3 195.1 355.9 196.7 356.7 198 357.9 199.3 359.1 200.6 360.3 201.7 361.7 202.3 363.2 202.9 364.7 204.2 365.8 204.9 367.9 205 370 204 371.3 203.5 372.9 202.5 374.2 201.6 375.5 200.9 377 200 378.3"/>
<path d="M204.2 365.8 204.7 364.2 205.5 362.9 206.7 361.7 208.2 360.3 210.3 359.8 211.7 358.3 213.3 357.9 214.9 357.2 216.8 357.5 218.3 356.7 220 357.2 221.7 356.6 223.3 356.3 225 356.7 226.7 356.5 228.4 356.6 230 357 231.7 356.9 233.3 357.5 234.8 358.5 235.8 360 235.7 362.1 235 364.2 236.2 365.9 237.5 367.5 237.9 369.6 238.9 371.5 240 373.3 239.8 375.3 239.6 377.2 239.2 379.2 239.7 380.9 240.4 382.5 240.8 384.2 242.3 384.9 243.8 385.5 245 386.7 246.6 385.6 248.6 385.5 250 384.2 250.9 382.3 252.5 380.8 255 380 255.3 381.7 255.4 383.4 255.8 385 254.6 386.5 254.4 388.5 253.3 390 251.8 391.2 250.1 392.2 248.3 393 246.7 393.3 245 393.5 243.2 393.2 241.6 393.6 240 394.2 238.3 393.8 236.7 394.7 235 394.7 233.3 394.2 231.7 393.4 230.1 392.7 228.3 392.5 226.6 392 225 391.3 223.3 390.8 221.6 391.1 220 390.5 218.4 389.7 216.7 390 214.9 390.3 213.2 390.9 211.5 391.4 210 392.5 208.7 393.6 207.4 394.5 205.8 395 205 397.5 203.5 398.4 201.7 398.6 200 399.2 198.3 399.6 196.5 400 194.9 400.8 193.3 401.7 191.6 402.4 190 403.3"/>
<path d="M77 349 78.7 347.7 80 346 82 345.7 84 345.5 86 345.2 87.8 344.9 89.6 345.8 91.4 345.4 93.2 346.3 95 346 96.4 346.9 98 347.5 96.7 349.2 95 350.5 93.8 352.3 92.2 353.7 90.5 355 89.6 356.4 88.8 357.9 88.6 359.7 87.5 361 86.3 362.6 84.5 363.4 83 364.7 80.8 364.3 78.5 364 77.3 362.6 76.2 361 76.7 359.4 77.8 358.1 78.5 356.5 77.2 354.4 77 352 77 349"/>
<path d="M63.5 345.2 71 344.5"/>
<path d="M26 424.3 27.5 424 29.3 423.5 31.1 423.4 33 423.6 34.7 423 36.5 422.5 38.2 422.1 39.5 421 40.9 420 42.5 419.5 43.8 418.3 45.8 417.9 47 416.5 48.9 417.2 51.1 417.3 53 418 55.1 418 57 419 59 419.5 61 419.9 63 419.9 65 420.2 66.8 419.6 68.8 419.6 70.7 419.5 72.5 418.7 74.3 417.9 76.1 417.1 78.1 416.9 80 416.5 81.8 415.8 83.8 415.5 85.5 414.5 87.5 414.2 89.1 413.9 90.6 413.2 92 412.4 93.4 411.5 95 411.2 97 411.1 98.7 409.9 100.7 409.9 102.5 409 104.3 408.3 106.2 407.9 108.2 408.2 110 407.5 111.6 407.9 112.8 409.2 114.5 409.3 116.1 409.6 117.5 410.5 119.3 409.6 121.2 409.3 123.2 408.9 125 408.2 126.7 407.9 127.8 406.4 129.4 405.9 130.9 405 132.5 404.5 134.5 404.6 136.2 403.4 138 402.9 140 403 141.7 403.3 143.1 404.4 144.5 405.2 146.7 404.9 148.6 404.1 150.5 403 152.1 402.3 153.8 401.7 155.2 400.7 156.4 399.2 158 398.5 159 397.2 160.8 396.9 161.9 395.7 162.7 394.1 164.4 393.6 165.5 392.5 166.9 391.4 168.4 390.5 169.9 389.5 171.5 388.7 171.7 386.9 172 385.1 173 383.5 174 385.7 174.5 388 175.4 389.4 176 391 174.2 391.6 173.2 393.3 171.5 394 170.3 396.1 170 398.5 171.1 400.6 171.5 403 173.1 403.6 174.3 404.8 175.8 405.6 177.5 406 179.4 405.6 181.2 404.8 183.1 404.8 185 404.5 186.6 404 188.4 404.1 190 403.3"/>
<path d="M206.7 395.8 208.2 394.8 210 394.3 211.8 394.2 213.1 392.7 215 392.5 216.7 392.2 218.4 392.5 220 392.3 221.6 391.4 223.3 391.7 224.9 392.3 226.3 393.3 227 395.1 228.8 395.5 230 396.7 229.7 398.4 230 400 228.2 400 226.7 401 225 401.5 223.3 401.7 221.7 401 220 401.2 218.3 401.4 216.7 400.7 215 400.8 213.3 400.4 211.6 399.8 209.8 399.4 208.3 398.3 206.7 395.8"/>
<path d="M248.4 349.2 247.5 351.9 245 354 243.3 354.1 241.7 354.7 240.1 353.9 238.3 354 235.9 351.9 235 349.2 235.9 346.4 238.3 344.4 240.1 344.2 241.7 343.7 243.3 344.5 245 344.4 247.5 346.4 248.4 349.2"/>
<path d="M273.7 395 273.2 393.7 273.9 392.9 274.6 392 275 391 275.7 389.8 275.6 388.7 274.4 387.7 274.1 386.6 274.3 385.4 274.3 384.3 274.6 383.3 275.7 382.6 274.8 381.1 275.7 380.3 276.7 379.5 277.1 378.4 277.8 377.4 278.2 376.3 278.3 375 278.8 373.9 278.7 372.6 279 371.4 279.7 370.3 280.4 369.4 281.7 369.4 282.3 368.3 283.6 368.7 284.1 369.8 284.3 371 284.9 372 286.4 372 287 373 288.3 372.5 289.4 372.6 290.3 373.7 291.5 373.1 292.4 372.1 293.7 371.7 295.4 371.8 296.3 370.3 295.5 371.4 295.1 372.5 296.3 373.9 295.7 375 295.9 376.4 295.4 377.5 294.3 378.3 294.5 379.3 294.3 380.4 294.9 381.3 295 382.3 294.1 383.4 292.9 383.8 291.7 384.3 291 383.5 290.2 382.8 289.4 382 288.3 381.7 286.9 381.8 285.9 382.8 285 383.7 284.9 385.2 283.1 385.6 283 387 283.4 388 282.9 389 283.2 390 283 391 283.3 392.5 284.3 393.7 283.5 394.7 282.5 395.1 281.5 395.6 280.3 395.7 279 395.8 278.4 394.1 277 394.3 275.9 394.4 274.9 395.1 273.7 395" style="stroke-width:1.6"/>
<path d="M291 388.3 291.9 387.6 293.4 388.1 294 386.8 295 386.3 295.8 385.2 297.5 385.4 298.3 384.3 299.5 384.1 300.9 384.3 301.7 383 303.3 383 304.3 384.3 303.5 385 302.2 385.2 301.7 386.3 300.4 386.3 299.4 386.6 299.1 388.5 297.7 388.3 296.9 389.1 296 389.9 294.9 390.3 293.7 390.3 293.3 388.9 292 388.8 291 388.3" style="stroke-width:1.6"/>
<path d="M299 384.3 298.1 385.3 298.9 386.6 297.9 387.6 298.5 388.9 298.3 390 298.7 391 297.8 392 297.5 393 299 394 298.3 395 298.8 395.9 299.5 396.7 300.7 397.1 301.2 398 301.7 399 302.9 398.6 303.9 399 305 399.4 305.9 400.2 307 400.3 308.1 399.9 308.7 398.6 309.5 397.6 311 397.7 310.9 396.6 311.7 395.8 311 394.6 311.7 393.7 310.6 393.3 309.7 392.8 309.5 391.3 308.3 391 307.7 389.6 307 388.3 305.6 387.4 305.7 385.7 306.4 384.6 307.6 384.6 308.7 384.4 309.8 384.1 310.4 382.8 311.7 383 312.7 382.1 314.1 382.7 315.1 381.9 316.3 381.7 316.7 380.5 317.4 379.5 319 379.2 319 377.7 319.4 376.6 320.4 376.1 320.8 375 321.7 374.3 322.5 373.3 323.9 373 324.3 371.7 325.5 370.8 324.8 369.3 324.8 368 325.7 367 325.6 365.9 324.3 365.4 324.3 364.3 325.6 363.8 326.1 365.7 327.3 365.2 328.3 365.7 327.7 366.8 328.5 367.8 327.6 368.9 328.4 369.9 328.3 371 329.3 370.2 330.4 369.7 331.7 370.3 332.8 370 334 369.7 335 369" style="stroke-width:1.6"/>
<path d="M319 383.7 318.3 384.7 319.7 385.7 318.8 386.7 319.2 387.7 319 388.7 319.6 389.7 319.4 390.7 319 391.7 319.1 392.9 318.6 394.1 320.2 395 319.7 396.3 320.7 397.3 321.7 398.3 322.6 399.1 323.6 399.7 325 398.6 326.1 398.8 327 399.7 328 400.8 329.1 401.2 330.5 400.6 331.7 401" style="stroke-width:1.6"/>
<path d="M302 375 302.6 373.8 304.3 374.7 305 373.5 306 373.4 306.9 374.5 308 374.1 309 374 309.7 375.2 311.3 374.8 312 376 310.9 376.7 311.1 378.3 310 379 309 379.4 307.8 378.9 306.9 379.2 306 380 304.7 379.8 303.7 379.1 303 378 302.5 377.1 302.4 376 302 375" style="stroke-width:1.6"/>
<path d="M268.9 368.3 268.1 369.6 266.3 370.1 264.5 369.6 263.7 368.3 264.5 367 266.3 366.5 268.1 367 268.9 368.3" style="stroke-width:1.6"/>
<path d="M261.2 388.3 260.6 389.4 259 389.8 257.4 389.4 256.8 388.3 257.4 387.2 259 386.8 260.6 387.2 261.2 388.3" style="stroke-width:1.6"/>
<path d="M321 365.5 320.2 366.4 318.8 366.4 318 365.5 318.8 364.6 320.2 364.6 321 365.5" style="stroke-width:1.6"/>
<path d="M301 376 301.9 375.5 302.8 374.7 304 375 305 375.5 305 376.9 306 377.5 304.7 377.6 304.8 379.5 303.5 379.5 302.3 378.9 301 378.5 301.5 377.2 301 376" style="stroke-width:1.6"/>
<path d="M308 381 308.7 379.9 310.2 380.9 311 380 312.3 380.3 312.5 381.8 313.5 382.5 312.6 383.3 311.7 384 311 385 309.6 384.8 308.5 384 308.2 383 308.3 382 308 381" style="stroke-width:1.6"/>
<path d="M286 376.5 287 376.2 288 376.4 289 376 289.6 377 290.1 378 290.5 379 289.7 380.5 288 380.5 287.7 379.4 287 378.5 286.1 377.7 286 376.5" style="stroke-width:1.6"/>
<path d="M273.7 372 273.1 372.9 271.9 372.9 271.3 372 271.9 371.1 273.1 371.1 273.7 372" style="stroke-width:1.6"/>
<path d="M264 376 263.3 377 262.2 376.6 262.2 375.4 263.3 375 264 376" style="stroke-width:1.6"/>
<path d="M318 383 319.2 381.7 320 380 320.9 378.5 321.3 376.7 321.7 374.9 322.6 373.3 323.3 371.7 324.8 370.7 326.5 370.2 328.3 370 330 369.4 331.5 368.6 333.3 368.4 335 368 336.7 367.5 338.1 366.2 340.1 366 341.5 364.6 343.5 364.4 345 363.3 346.7 363.3 348.3 362.7 349.9 361.9 351.6 362 353.3 361.7 354.9 360.9 356.8 360.8 358.2 359.3 360.2 359.3 361.7 358.3 363.5 358.5 365.1 357.9 366.7 357.7 368.3 356.7 370 356.7 371.7 357 373.3 356.3 375 356.7 376.7 356.4 378.3 355.8 379.7 354.9 381.4 354.9 383 354.4 384.3 353.4 386.2 353.7 387.8 354.7 389.4 355.9 391.4 356 393 357.1 394.8 357.2 396.4 356.3 398.3 356.5 399.9 355.5 401.7 355.6 403.4 356.3 405 357.5 407 357.5 408.7 358.3 410.3 359.3 411.9 359.6 413.6 359.6 415.3 359.6 416.9 360 418.5 360.2 420 361.3 421.6 361.3 423.3 361.4 425 362 426.7 361.3 428.3 362.1 430.1 361.5 431.7 362 433.4 362.3 435.1 362.1 436.8 362.8 438.5 362.5 440.1 363 441.7 363.4 443.3 364.1 445.1 363.7 446.5 365.1 448.2 365.1 449.9 365.3 451.5 365.8 453.2 366.5 455.1 366.2 456.8 367.4 458.7 367.3 460.5 367.4 462.3 367.9 463.7 368.8 465.4 369.1 467.1 369.5 468.4 370.7 470.3 370.6 471.5 372 473.2 372.3 474.8 373.2 476 374.6 477.2 376 478.9 376.7 480.3 377.9 481.8 378.8 483.5 379.4 485.3 379.9 486.9 380.7 488.3 382 489.9 381.3 491.6 381.6 493.2 381.1 494.8 380.9 496.4 380.1 498.2 379.7 499.5 378.1 501.3 377.7 502.8 376.4 504.6 375.6 505.9 374 507.8 373.3 509.5 373 511.1 373.7 512.7 373.7 514.3 374.4 515.9 374.1 517.5 373.8 519.2 374.1 520.8 373.9 522.4 373.4 524.1 373.7 525.7 373.4 527.3 373.3 528.9 372.6 530.6 373.2 532.1 372.2 533.7 371.9 535.4 371.5 537.1 371.9 538.7 371.9 540.3 371.2 542.1 371.3 543.8 370.7 545.5 370.3 547.2 369.8 549 370.1 548.8 371.9 548.9 373.7 549 375.5 550.6 375.5 552.2 375.9 553.9 375.9 555.5 376.5 557.1 376.4 558.8 376 560.3 376.9 562 376.6 563.7 376.9 564.9 378.1 566.4 378.7 567.9 379.2 569.5 379.7 570.7 380.9 572 381.9 573.8 381.9 575 383.1 576.2 384.3 578 384.2 579.3 385.3 581 384.8 582.8 385 584.5 384.6 586.3 384.6 588 384.2 589.8 384.1 591.4 383 593.2 382.7 594.9 382.2 596.7 382 597.8 380.2 599.9 379.4 601 377.7 600.5 376.1 599.7 374.7 598.8 373.3 600.3 372.3 602.2 372.6 603.8 372 605.3 371.2 606.7 370.3 608.3 369.6 609.6 368.5 610.9 367.3 612.3 366.3 614 365.8 615.8 365.1 617.5 364.6 619.4 364.5 621.3 364.6 623.1 364.2 624.9 363.6 626.7 363.3 628.4 362.4 630 361.5"/>
<path d="M320 396.7 321.8 397.1 323.3 398.1 325 398.6 326.5 399.6 328.3 400 330 401.7 331.7 403.3 333.3 402.7 335 402.8 336.8 402.8 338.3 401.7 340 401.7 341.8 401.7 343.2 400.3 344.9 400.2 346.6 399.8 348.4 399.9 350 399.2 351.7 399.5 353.3 399.1 355 398.5 356.7 398.9 358.3 398.3 360.1 399 361.8 399.7 363.1 401.2 365 401.7 366.7 401.7 368.3 401.6 370 401.3 371.7 401.5 373.3 400.8 375 400.7 376.7 401 378.3 400.7 380 400.4 381.7 400.8 383.3 400.3 385 400.6 386.7 400.5 388.3 400.2 390 400.1 391.7 400.5 393.4 399.9 395 400.9 396.7 400 398.4 399.9 400 400 401.7 400.4 403.1 401.3 404.8 401.2 406.4 401.4 408 401.8 409.6 402.3 410.9 403.4 412.5 403.7 414.2 404.3 415.9 404.8 417.7 405.2 419.6 404.9 421.2 405.8 422.9 405.4 424.4 404.6 426.2 404.6 427.7 403.7 429 404.7 430.4 405.5 432.2 405.4 433.3 406.9 434.7 407.7 436.3 408 437.9 409.1 439.9 408.9 441.6 409.7 443.4 410.2 445 411.3 446.7 410.6 448.6 411.3 450.4 411.1 452.2 410.7 454 410.7 455.8 410.2 457.4 409.9 458.8 409 460.3 408.4 461.9 407.9 463.7 408.1 465 407.1 466.7 406.9 468.5 406.4 470.3 406.1 472 405.3 473.8 405.2 475.7 404.9 477.5 404.8 479 403.9 480 402.5 481.3 401.3 483 400.8 484 399.3 485.6 399.3 487.2 399.7 488.9 399.4 490.5 398.8 492.1 399.2 493.8 399.2 495.4 399.6 497 399.3 498.7 399.4 500.2 400.1 501.9 400.2 503.6 400.1 505.1 401.1 506.8 400.5 508.3 401.6 510 401.5 511.9 401.5 513.7 401.7 515.5 402.3 517.1 403.2 518.9 403.8 520.8 403.7 522.5 402.8 524.4 403 526.2 402.6 528.1 402.6 529.8 401.5 531.7 401.5 533.5 401.1 535.3 400.6 537.2 400.8 538.8 399.8 540.8 400.1 542.5 399.3 544.1 398.5 545.7 398 547.4 397.9 549 397.2 550.8 396.8 552.5 396 554.4 396.2 556.1 395.3 558.1 395.7 559.8 395 561.5 395.1 563.2 395.1 564.9 394.8 566.5 394.4 568.2 394.3 569.9 394.2 571.7 394.6 573.3 393.6 575 393.9 576.7 394.1 578.2 392.9 579.8 392.8 581.5 392.6 583.2 393 584.8 392.3 586.4 391.9 588 391.8 589.7 391.8 591.2 390.7 592.9 390.5 594.5 390.2 596.2 390 597.8 389.6 599.4 389.1 601 388.5 602.6 387.9 604.2 387.5 605.8 386.9 607.6 387.3 609.2 386.7 610.8 386.4 612.3 385.3 614 385.3 615.8 385.5 617.5 386.1 619.3 386 621.1 385.5 622.7 384.5 624.5 384.2 626.3 383.7 627.9 383.1 628.9 381.6 630.3 380.6 631.8 379.8 633.3 379 634.6 378 635.9 376.9 636.6 375.2 638 374.3 639.2 373.1 640.6 372.2 642.1 371.4 643.6 370.6 645 369.7 645.9 368.3 647.2 367.2 648.3 365.9 649.7 365 651.2 364.2 652.2 362.8 652.8 361.2 654.3 360.3"/>
<path d="M370 356.7 369.6 358.4 370.7 360 370.5 361.7 369.9 363.4 370.2 365 370.4 366.7 370.8 368.3 372.5 368.4 374.2 368.3 375.8 368.9 377.5 368.5 379.2 368.7 380.8 369.2 380.2 370.8 379.9 372.4 378.9 373.8 377.8 375.1 377.2 376.7 376.7 378.3 375.4 379.3 373.9 380.2 372.7 381.3 371.6 382.6 370 383.3 369.7 385 369.7 386.7 369.1 388.3 369.2 390 370.3 391.4 372 392.1 373.3 393.3 372.1 394.4 370.7 395.5 369.8 397 368.8 398.3 367.2 399.1 365.9 400.2 365 401.7"/>
<path d="M438.5 362.5 437.8 364.2 437.6 366.1 437 367.8 436.8 369.7 436.5 371.5 436.3 373.3 434.7 374.4 433.2 375.7 431.3 376.5 429.8 377.7 430.5 379.4 430.3 381.1 430.2 382.9 430.4 384.6 430.9 386.3 430.1 388 429.9 389.9 429.1 391.5 428.4 393.3 427.7 395 426.7 396.4 426 398 424.8 399.2 423.7 400.6 423.5 402.4 422.3 403.7"/>
<path d="M484 379.8 483.3 381.4 482.6 383 482.5 384.7 481.8 386.3 482.4 387.9 482.4 389.7 483.9 391 484 392.8 483.4 394.4 483.3 396.2 482.1 397.6 481.8 399.3"/>
<path d="M549 370.1 548.2 371.6 548.3 373.3 548.4 375 547.5 376.5 547.2 378.2 546.9 379.8 546 381.1 545.4 382.7 544.6 384.1 543.6 385.4 543.2 387 542.5 388.5 543.1 390.1 543.1 391.9 544.5 393.3 544.7 395 545.6 396.6 546.9 397.8 547.9 399.3"/>
<path d="M616.2 365.8 616.4 367.8 617.6 369.4 617.3 371.6 618.3 373.3 618 375.1 617.9 376.9 617.3 378.6 616.7 380.3 616.2 382"/>
<path d="M371.7 406.7 370.4 408.3 367.9 408.3 366.7 406.7 367.9 405.1 370.4 405.1 371.7 406.7"/>
<path d="M520.3 360.3 519.2 362.3 516.5 363.1 513.8 362.3 512.7 360.3 513.8 358.3 516.5 357.5 519.2 358.3 520.3 360.3"/>
<path d="M579.5 363 584 362"/>
<path d="M557.5 343.3 562 342.7"/>
<path d="M592 371.2 590.7 373.2 589.2 374.1 587.5 374 585.9 373.7 584.3 373.2 583 371.2 584.3 369.2 585.9 368.7 587.5 368.4 589 369 590.7 369.2 592 371.2"/>
<path d="M499.4 405.8 498.8 407.5 497.5 407.5 496.8 405.8 497.5 404.1 498.8 404.1 499.4 405.8"/>
<path d="M511.6 404.8 510.8 406.7 509.2 406.7 508.4 404.8 509.2 402.9 510.8 402.9 511.6 404.8"/>
<path d="M624 351 624.8 349.5 625.7 348.1 626.6 346.6 628 345.5 628.7 344 630.4 343.5 631.5 342.1 632.7 340.9 634.5 340.5 635.7 339.3 637.5 339.8 639.3 340.2 641.1 340.7 642.7 341.7 644 343.1 645.4 344.3 647 345.3 648.5 346.3 649.1 348 649.6 349.8 650.5 351.5 650.8 353.3 651.2 355 652.7 356.2 653.3 357.8 654.3 359.2 652.4 359.4 650.7 360 649.1 361 647.3 361.5 645.5 361.4 643.8 360.8 642 361 640.3 360.3 639.4 358.9 637.9 358.1 637.1 356.6 635.7 355.7 634.1 355.5 632.5 355 630.9 354.8 629.4 354.2 627.8 354 626.3 353.3 624.8 352.5 624 351"/>
<path d="M652 360.3 653.6 359.6 654.8 358.3 656.2 357.4 657.7 356.6 659.3 355.9 660.7 355 662.3 354.3 663.7 353.3 665.4 353.3 667 352.8 668.7 353.3 670.4 353.1 671.9 352 673.7 352.7 675.3 352.2 676.9 352.8 678.6 352.8 680.4 352.3 682 353.2 683.6 353.1 685.4 352.6 687 353.3 686.9 355.2 685.4 356.6 685.1 358.5 684.7 360.3 683.3 361.3 681.8 362.3 680.2 363 678.6 363.7 676.7 363.9 675.3 365 673.7 365.5 672.1 366 670.2 365.5 668.6 366 667.1 367 665.3 366.5 663.7 367.3 661.8 367 660 366.6 658.1 366.5 656.2 366 654.3 366.2 653.8 364.1 653.1 362.1 652 360.3"/>
<path d="M640.3 379 641.4 377.7 643.1 377.2 644.3 376 645.8 375.2 647 373.9 648.6 373.3 649.7 372 651.4 371.7 653 371.1 654.6 370.7 656.3 370.3 658 370.3 659.5 369.6 661.3 369.7 663.1 369.9 664.9 369.9 666.6 370.5 668.3 370.8 666.8 371.6 665.2 372.4 663.7 373.2 661.9 373.3 660.5 374.7 658.6 374.3 657 375.2 655.3 375.6 653.6 376 652 376.7 650.4 377.6 649.3 379.1 647.9 380.2 646.1 380.9 645 382.5 643.2 381.7 642 380 640.3 379"/>
<path d="M675.3 379 676.6 377.9 677.3 376.3 678.9 375.6 680.1 374.5 681.5 373.5 682.3 372 683.5 370.9 685.3 370.4 686.3 369 687.7 368 689.3 367.4 690.1 365.6 691.7 365 693.4 364.6 695.1 363.8 696.6 362.8 698.5 362.7 699.9 361.5 701.6 360.9 703.3 360.3 702.2 358.8 701.2 357.2 699.6 356.1 698.7 354.5 700.2 354 701.8 353.6 703.4 353.4 705 353.3 706.4 352.3 708.1 352.5 709.6 351.7 711.1 351.4 712.7 351 714.4 350.5 716.2 350.4 718 350.7 719.7 350 721.5 349.9 723.2 349.1 724.9 348.8 726.7 348.7 728.5 348.8 730.2 349.4 731.9 349.7 733.6 350.2 735.5 349.6 737.2 350.7 738.9 351.1 740.7 351 742.4 351.6 744.4 351.7 746 352.5 747.7 353.3 746.3 354.4 744.7 354.8 742.8 354.6 741.4 355.5 739.8 356.1 738.3 356.8 736.7 356.9 735.1 357.1 733.6 357.8 732 358.2 730.5 358.6 728.9 358.9 727.4 359.4 725.8 359.7 724.3 360.3 722.9 361.4 721.1 361.7 719.7 362.7 718 363.2 716.7 364.6 715 365 714.1 366.4 713 367.7 711.3 368.3 710 369.3 709 370.7 708 372 707.2 373.5 705.8 374.6 704.9 376 704.2 377.6 703.3 379 701.7 379.4 700 379.6 698.3 379.6 696.7 379.9 695 379.9 693.3 379.9 691.7 380.2 690 379.7 688.4 380.7 686.7 380.1 685 380.7 683.3 380.6 681.7 379.9 680 380.2 678.5 379.7 677 379 675.3 379"/>
<path d="M747.7 365 749.3 364.3 750.8 363.2 752.6 362.9 754.4 362.4 756.2 362.1 757.8 361.5 759.3 360.3 760.8 359.8 762.4 359.2 763.8 358.4 765.6 358.4 767 357.4 768.5 356.9 770 356.2 771.6 355.7 773.3 355.7 774.8 354.9 775.7 353.4 777.6 353.1 778.4 351.3 780.3 351 781.1 349.4 782.7 348.7 784.6 348.8 786.1 350.1 788 350.2 789.7 351 788.9 352.7 788.8 354.6 788.4 356.4 787.3 358 785.8 358.8 784.5 359.8 783.1 360.7 781.8 361.8 780.9 363.4 779.2 363.9 778 365 776.9 366.3 776.2 367.8 774.8 368.9 774.5 370.8 773.3 372 771.5 372.5 770.1 373.7 768.9 375.4 767.4 376.3 765.5 376.7 764 377.8 762.6 376.4 760.6 375.8 759.3 374.3 758 373.3 757.2 371.8 755.6 371.1 754.7 369.7 753.5 368.4 751.9 367.8 750.2 367.3 749 366.1 747.7 365"/>
<path d="M792 367.3 792.7 365.7 793.3 364 794.2 362.4 794.3 360.5 795.7 359.1 795.9 357.3 796.7 355.7 798.4 355.2 800.1 354.5 801.6 353.6 803.3 352.9 805.1 352.6 806.8 352.1 808.3 351 807.1 349.8 805.5 349.1 804 348.4 802.4 347.6 801.3 346.3 803.1 346.5 804.7 345.9 806.5 345.7 808.1 344.8 809.8 344.8 811.6 344.9 813.3 344.4 814.9 343.9 816.6 343.2 818.3 343 820 342.8 821.5 343.7 823.4 343.7 825 344.5 826.7 344.9 828.2 345.7 829.9 346.1 831.7 346.3 833.4 346 835 345.6 836.7 345.8 838.4 345.9 840 346 841.7 346.2 843.4 346.2 845 345.2 846.7 346 848.4 345.9 850 345.8 851.7 345.4 853.3 345 855 345.2 856.7 345.7 858.5 345.8 860.2 345.8 862 346.2 863.8 345.7 865.5 345.6 867.2 346.2 869 346.3 869.9 347.7 871.6 348.4 872.3 350 873.3 351.3 875 351.9 876 353.3 875.3 355 874.7 356.7 874.3 358.6 873.7 360.3 872.1 360.9 870.3 361.2 868.5 361 866.8 361.3 865.2 361.9 863.6 362.7 861.7 362.2 860 362.6 858.5 363.5 856.7 363.4 855 363.8 853.3 363.6 851.6 363.9 850 364.5 848.3 364.8 846.7 365 845.1 365.6 843.4 365.9 841.7 366.1 840 365.8 838.4 366.4 836.7 366.5 835 366.9 833.4 367 831.7 367.3 830.1 367.9 828.5 368.3 826.7 367.5 825.2 368.4 823.6 368.9 821.8 368.6 820.2 368.7 818.6 369.6 816.9 369.4 815.3 369.7 813.6 370 811.8 370 810.1 370.6 808.3 370.8 806.5 369.8 804.8 370.1 803.1 370.7 801.3 370.8 799.8 370.1 798.1 369.9 796.8 368.8 795.1 368.5 793.7 367.4 792 367.3"/>
<path d="M739.5 364 738.8 365.3 737.2 365.3 736.5 364 737.2 362.7 738.8 362.7 739.5 364"/>
<path d="M786.2 373 785.6 374 784.4 374 783.8 373 784.4 372 785.6 372 786.2 373"/>
<path d="M227.3 461.2 228.6 459.9 229.8 458.4 231 457.1 231.5 455.1 232.8 453.8 234.1 452.6 235.7 452 237.2 451.2 238.7 450.3 240.2 449.5 242 449.2 243.8 449 245.7 449 247.5 448.3 249.4 448.5 251.2 448.1 253 447.4 254.5 446.7 256.2 447.1 257.8 446.6 259.3 446.1 261.1 446.8 262.6 445.8 264.2 445.9 265.8 445.6 267.4 445.9 269 446.3 270.6 446.1 272.3 445.9 273.9 446.1 275.5 445.9 277.1 446.9 278.7 446.5 280.6 446.9 282.3 445.9 284.2 445.5 286 445.6 287.9 445.6 289.7 445.6 291.6 445.8 293.4 445.5 295.2 445.2 296.9 444.1 298.8 444.3 300.6 445.1 302.4 445.6 304.3 446 306 446.9 308 446.9 309.9 446.6 311.7 446.9 313.5 447.7 315.3 448.1 317.1 448 319 448 320.3 447 322 446.4 323.5 445.7 324.6 444.3 326.3 443.8 327.5 442.6 328.7 441.4 329.9 440.2 331.5 439.4 332.8 438.3 334.6 439.5 336 441.1 337.3 442.8 339 443.6 340.1 445.2 342.1 445.7 343.1 447.4 344.7 448.3 346.4 448.9 348 449.7 349 451.5 350.9 451.7 352 453.3 353.8 453.8 355.5 454.7 357.4 455.2 359.4 454.8 361.2 455.7 361.8 457.3 362.6 458.7 362.3 460.6 362.9 462.1 363.6 463.6 364.3 465.1 364.8 466.7 366.7 467.2 368.4 468.4 370.4 468.7 372.2 469.4 374 469.2 375.8 468.3 377.6 468 379.4 467.5 381.3 467.6 383.2 467.6 385 467.2 386.8 466.5 388.7 466.7 389.8 468.4 391.6 469.3 392.9 470.8 394.2 472.2 395.8 472.6 397.2 473.4 398.4 474.7 400.1 474.9 401.5 475.8 402.7 477.2 403.4 479 404.4 480.6 405.2 482.3 406.1 483.7 407.9 484.1 408.5 485.9 410.4 486.2 411 488 412.5 488.7 413.9 489.8 415.7 490.3 417.1 491.4 418.8 492.2 420.3 493.1 421.7 494.2 423.3 495.3 424.6 496.8 425.4 498.7 427.2 499.7 426.7 501.5 426.7 503.4 427.6 505.2 427.2 507 425.8 507.8 424 507.8 422.8 509.3 421 509.2 419.6 510.3 418 510.7 416.3 510.9 415.3 512.6 413.5 512.6 412.2 513.7 410.7 514.3 409.3 515.3 407.8 516 406 515.8 404.6 516.7 403.2 517.7 401.5 518 399.7 518.4 397.8 518.2 396.1 519.2 394.2 519.1 392.4 519.9 390.5 519.8 389.5 521.3 387.8 522.1 386.8 523.5 385.1 522.6 383 522.4 381.2 521.8 379.5 520.7 377.6 520.8 375.8 519.9 374 519.6 372.1 519.5 370.3 518.9 368.4 518.9 366.7 518.2 364.8 517.8 363 517.4 361.1 517.3 359.3 517.1 357.6 516.6 355.9 516 354.7 514.5 353 514 351.6 513 349.7 512.8 348.3 511.6 347 510.4 345.3 509.9 344.1 508.5 342.7 507.6 341 507 340.4 505.2 339.3 503.5 339.2 501.5 338.1 499.8 336.4 498.8 335.4 497.1 333.7 496 332.1 495.5 330.5 494.8 329.3 493.4 327.5 493.1 325.9 492.5 324.5 491.4 322.6 491 320.8 490.2 318.8 490.3 317.1 489.2 315.3 488.7 313.8 488 312.3 487.2 310.6 486.8 309.3 485.4 307.9 484.6 306.2 484.1 304.9 482.8 303.1 482.4 301.9 481.1 300.2 480.5 298.8 479.5 297 479 295.1 479.6 293.4 478.6 291.6 478.3 289.7 478.6 287.9 478.4 286 478.2 284.2 478 282.3 477.8 280.5 477.7 278.9 479.1 276.6 479 275 480.4 273.1 480 271.2 479.4 269.4 478.8 267.7 477.7 265.8 477.8 264.1 477 262.2 477.7 260.3 477.5 258.6 476.6 256.7 476.7 255 476.5 253.4 476.2 252 475.1 250.4 474.6 248.9 474.1 247.3 473.4 245.7 473.1 244 472.7 242.8 471.2 241.2 470.6 239.3 470.5 237.8 469.6 236.5 468.5 235.1 467.6 233.8 466.6 232.2 465.9 231 464.8 229.5 463.9 228.5 462.5 227.3 461.2"/>
<path d="M326.3 443.8 327.9 444.6 329 446.1 330.2 447.5 331.8 448.3 332.2 450.1 331.7 452 331.5 453.9 331.8 455.7 330.9 457.2 329.1 457.8 328.2 459.3 326.6 460.2 325.8 461.9 324.5 463 324 464.9 322.9 466.6 322.7 468.5 321.1 468.9 319.6 469.4 317.9 469.2 316.3 469.7 314.9 470.6 313.3 471.1 311.7 471.2 311.5 473.1 311.1 474.9 310.7 476.7 310.9 478.5 311.8 480.1 312.4 481.8 313.5 483.2 311.6 483.5 309.7 484 308 485"/>
<path d="M354 524.6 357 524"/>
<path d="M358.5 523.6 361.5 523"/>
<path d="M515 545 516.3 543.8 518 543.5 519.7 543.2 521.2 542.4 522.4 541 524 540.5 525.5 539.5 527.1 538.8 528.4 537.7 530 536.9 531.5 536 532.7 534.6 534.5 533.9 536 533 538 532.7 539.9 531.9 542 532.2 543.6 532.4 544.8 533.8 546.4 534.2 548 534.5 547.5 536.8 548 539 547.5 540.8 547.2 542.7 545.3 543.4 543.5 544.3 542 545.7 540.3 545.9 539.2 547.4 537.4 547.5 536.1 548.5 534.4 548.7 533 549.5 530.9 549.2 529 548.5 527 548 525 547.5 523 547.9 521 548 519.4 547.5 518 546.5 516.5 545.8 515 545"/>
<path d="M497.7 549.5 499.6 549.5 501.2 548.3 503 548 504.7 547.7 506.4 548 508 547.4 509.7 547.7 507.8 548.9 506 550.2 503.9 550 502 550.7 500 551 497.7 549.5"/>
<path d="M631.5 563 633.2 562.2 635 561.8 636.8 561.3 638.5 560.7 640.1 560 641.7 559.6 643.3 559.2 645 559 646.7 558.9 648.4 558.6 650.2 558.4 651.9 558.2 653.7 558.3 655.2 557 657.2 556.6 659.1 556 660.7 554.8 662.5 554 664.2 553.1 666 552.3 667.7 551.3 669 549.9 670.9 549.2 672.3 547.8 673.4 546.6 674.7 545.5 675.9 544.4 677 543.2 678.4 542.2 679.7 541.1 681 540.1 682.4 539.2 684 538.5 685.8 537.6 687.4 536.6 689.3 536 691 535 692.7 534.9 694.2 535.6 695.7 536.2 696.5 537.9 698 539.1 697 540.6 695.6 541.7 694.5 543 693.3 544.3 691.7 545.7 689.8 546.7 691.7 547.6 693.8 547.2 695.7 547.8 696 549.6 696.8 551.3 695.9 552.8 694.5 553.7 692.7 554.5 690.6 554 688.7 554.8 687 555.5 685.4 556.5 683.5 556.7 681.7 557.2 680.2 558.4 678.4 559.3 677 560.7 677.4 563 677 565.3 675.3 566 673.4 565.7 671.7 566.4 670 567.1 668.4 567.6 666.7 567.5 665.1 567.6 663.4 567.4 661.8 567.7 660 567.8 658.2 567.9 656.5 568.2 654.8 568.8 652.9 569.6 650.8 570.2 649 571.2 647.3 572.2 645.7 573.3 644.3 574.7 642.5 574.7 640.8 574.4 639 574.5 637.3 574.7 635.8 573.1 633.8 572.3 632.9 570.1 632.7 567.7 632.7 566 631.4 564.7 631.5 563"/>
<path d="M618.5 564.8 617.4 565.8 615.2 565.8 614.1 564.8 615.2 563.8 617.4 563.8 618.5 564.8"/>
<path d="M626 566.5 625.2 567.5 623.8 567.5 623 566.5 623.8 565.5 625.2 565.5 626 566.5"/>
<path d="M629.4 562.4 628.4 563.4 626.4 563.4 625.4 562.4 626.4 561.4 628.4 561.4 629.4 562.4"/>
<path d="M640.7 578.8 639.6 580.7 637.4 580.7 636.3 578.8 637.4 576.9 639.6 576.9 640.7 578.8"/>
<path d="M684 522.2 685 520.8 685.6 519.1 686.3 517.5 687.7 516.3 689.4 515.6 690.6 514.1 691.8 512.8 693.3 511.7 695 510.9 696.5 510 697.8 508.7 699.2 507.6 700.8 508.9 702.3 510.3 703.8 511.7 702.7 512.9 701.3 513.9 700.3 515.2 698.7 516.5 696.8 517.5 696.1 519.5 695.2 521.3 694.5 523.3 692.8 524.6 691 525.7 688.6 525.6 686.3 525.1 685.4 523.5 684 522.2"/>
<path d="M700.3 527.4 702.1 526.8 703.4 525.5 705 524.5 704.5 522.6 703.9 520.7 703.8 518.7 704.5 517.1 705.2 515.6 706.5 514.3 707.3 512.8 709.3 512.3 711.1 511.2 713.2 511.1 714.7 511.9 716.5 511.6 718 512.5 719.6 512.8 721.3 512.8 722.5 515.2 720.4 515.5 718.8 517 716.7 517.5 715.6 519.1 714 520.4 713.2 522.2 714.8 524 715.5 526.3 717.1 525.9 718.7 526.5 720.3 526.5 721.9 527 723.5 526.9 725.1 526.7 726.7 527.3 728.3 526.8 730 526.7 731.6 526.5 733.3 526.5 735 526.1 736.6 525.9 738.3 526 740 525.7 741.4 524.8 743.2 524.7 744.5 523.7 745.9 522.8 747.2 521.7 748.8 521.2 750.3 520.5 751.9 520 753.3 519.2 754.9 518.6 756.7 518.2 758.3 517.6 759.7 516.4 761.3 515.7 763 515.2 764.8 514.9 766.2 513.7 767.6 512.8 769.1 512.2 770.7 511.8 771.9 510.4 773.5 510 775.3 510 777.1 511 778.9 511 780.8 510.9 782.4 511 784.1 510.7 785.6 511.7 787.2 511.6 788.8 511.8 790.4 512.1 792.1 512.1 793.7 511.8 795.2 511.2 796.7 510.4 798.3 510 800 509.8 801.6 509.2 803 508.4 804.7 508.2 805.7 506.6 807.2 505.5 808.4 504.1 809.4 502.6 811.2 501.6 812 499.9 813.6 499.1 814.9 497.6 816.7 497.1 818.4 496.5 819.8 495.1 821.5 494.6 823 493.5 824.1 492.1 825.6 491.5 827.3 491.1 828.6 489.9 830 489.1 831.1 487.7 832.6 487.1 834 486.2 835.2 485.1 836.1 483.7 837.6 482.9 838.6 481.6 840.1 480.8 841 479.4 842 478.1 843.2 477 844.5 475.7 846 474.8 847.9 474.5 849 473 850.6 472 852.3 471.5 853.4 470.1 854.9 469.3 856.4 468.5 857.6 467.2 858.8 466 859.6 464.3 859.2 462.2 859.6 460.4 860.6 458.7 862.3 458 863.7 456.7 865.5 456.1 867 455 867.4 453.1 867.9 451.2 868.8 449.5 868 447.7 867.2 446 867 444 865.9 442.3 864.3 441.2 862.8 440 861.5 438.5 860.6 437 859.6 435.5 858.8 433.9 859.8 432.2 861.5 431.2 863.3 431.8 865.2 431.7 867 432.2 868.9 431.9 870.7 432.1 872.2 431.3 873.5 430 874.8 428.9 876.8 428.8 878 427.5 878.6 425.7 878.2 423.8 879.1 422.1 878.9 420.2 878.3 418.2 876.9 416.6 876.2 414.7 874.4 414.1 872.5 413.8 871.4 415.1 871.3 416.8 870.7 418.3 869.4 417.1 867.6 417.1 866.2 416.2 864.9 415.2 863.3 414.7 861.4 414.8 859.6 414.5 857.9 413.6 856 413.8 854.4 414.2 852.8 414.3 851.4 415.2 849.8 415.7 848.2 415.9 846.7 416.4 845 416.5 843.1 416.4 841.4 417.6 839.5 417.8 837.7 418.3 836 419.2 834 419.2 832.2 419.8 830.3 420.2 829 421.2 827.8 422.4 826.4 423.2 824.8 423.8 822.9 424 821.2 425.1 819.4 425.7 817.6 426.4 815.7 426.6 814.3 427.4 812.7 428.1 811.3 428.9 809.5 428.9 808.1 429.8 806.5 430.3 804.7 431 802.8 430.8 801.1 431.8 799.2 432 797.3 432.1 795.6 432 794.1 433.1 792.4 433.1 790.7 432.9 789.1 433.3 787.6 434.3 786 434.4 784.3 434.3 782.7 434.8 781.2 435.5 779.4 435.6 778.2 436.9 776.4 436.8 775 437.9 773.5 438.5 772.1 439.5 770.5 440.1 769.1 441.2 767.3 441.4 766 442.6 764.3 443.1 762.4 442.9 760.6 443.5 758.8 443.9 757 444 755.7 445 754 445.4 752.8 446.5 751 446.6 749.7 447.7 748.5 449.1 746.7 449.9 745.2 451 743.9 452.3 742.3 453.2 740.7 453.7 739.4 454.8 737.8 455.2 736.4 456 735 456.8 733.9 458 732.6 459.1 731.7 460.4 730.4 461.4 728.7 461.9 727.7 463.3 726.5 464.8 724.8 465.9 723.9 467.7 722.2 468.8 722 470.4 722 472.1 721.7 473.7 721.7 475.4 721.3 477 721.3 478.9 720.6 480.7 720.2 482.6 719.4 484.3 718.3 486 716.5 486.9 715.4 488.6 713.9 489.8 713.8 491.7 713 493.4 712.9 495.3 713 497.2 714.6 498.9 716.7 500 718.5 500.5 720.4 499.9 722.2 500.2 724.1 500 725.9 500.9 727.7 500.8 729.4 501.9 731.3 502.7 730 503.7 728.6 504.6 727.1 505.3 725.8 506.3 724.3 507 723.2 508.4 721.5 508.8 720.3 510 718.5 510.4 716.7 510.4 715 511.2 713.2 511.1"/>
<path d="M757 444 758.8 444.6 759.8 446.2 761.5 447 763 447.9 764.9 448.1 766.2 449.5 767.9 450.5 769.2 452 770.6 453.4 771.7 455 773.2 455.7 774.5 456.7 776.1 457.4 777.2 458.7 778.8 459.2 780.1 460.3 781.7 460.5 782.9 461.9 784.5 462.3 786.3 463 788.1 463.8 790 464.2 791.6 464.5 793.1 465.3 794.5 466.2 796.2 466.4 797.9 466.7 799.2 467.8 800.6 468.8 802.1 469.3 803.8 469.4 805.5 469.8 806.6 471.2 808.3 471.5 809.9 471 811.2 469.8 812.8 469.4 814.3 468.6 816.1 468.7 817.5 467.8 818.9 466.9 820.7 467 822.2 466.3 823.5 465 825.2 465 826.7 464.2 828.1 463.4 829.7 463 831.2 462.3 832.4 461 834 460.5 834.3 458.8 835.9 457.8 836.1 456.1 837.4 454.9 837.7 453.2 838.4 451.4 838.9 449.6 839.4 447.7 839.5 445.8 840 444 840.2 442.1 840.1 440.2 841.2 438.6 841.3 436.7 841 434.9 841 433 841.2 431.1 840.2 429.4 840.4 427.5 840.5 425.6 839.5 423.9 840.1 422 840 420.1 839.5 418.3"/>
<path d="M769.8 456.8 768.7 458.1 767.2 458.9 765.6 459.6 764.5 460.9 763.3 462 762.2 463.4 760.7 464.2 761.2 466 760.9 467.8 760.8 469.7 761 471.5 760.7 473.3 761.5 474.8 762.3 476.2 762.3 478 762.9 479.5 764 480.9 764.3 482.5 764.9 484.3 764.9 486.2 765.3 488 765.1 489.9 766 491.6 766.2 493.5 767.7 494.7 768.7 496.5 770.6 497.3 771.7 499 773 500.4 774.6 501.6 775.6 503.4 777.2 504.5 777.7 506.3 778.1 508.3 779 510"/>
<path d="M826.7 466 828.5 465.6 830.3 466.2 832.2 466.1 834 466 835.8 466 836.8 467.4 838 468.7 839.5 469.7 840.4 471.4 840.6 473.3 841 475.1 841.3 477 840.7 479 839.5 480.7"/>
<path d="M868.8 449.5 870.8 449.6 872.5 450.5 874.3 451.3 876.1 450.7 878 451.1 879.8 450.6 881.7 450.4 883 449 884.6 448.1 886.2 447.2 887.7 446 889.1 444.8 890.8 444 892.1 442.7 893.6 441.7 895.7 441.7 897.1 440.6 898.2 439 900 438.5"/>
<path d="M855.5 411.7 856.8 410.6 858.1 409.5 858.9 407.9 859.6 406.3 861.1 405.3 862.1 403.9 863.3 402.7 864.2 401.3 865.6 400.5 866.3 398.9 868.2 398.5 869 397 869.6 395.5 870 393.9 870.8 392.4 870.9 390.8 871.2 389.2 872.5 387.7 874 386.4 875.7 385.3 877.3 384.5 879 383.9 880.9 384.3 882.5 383.6 884.1 383.8 885.7 383 887.2 382.7 888.9 383 890.5 383 892.1 382.9 893.6 381.9 895.3 382.4 896.9 382.2 898.4 382 900 381.5 901.6 381.1 903.1 380.7 904.8 381.2 906.3 380.4 907.9 380.2 909.5 380.2 911.1 379.8 912.7 380 914.2 379.2 915.8 378.7 917.5 379.1 919 378.9 920.7 378.9 922.2 378.5 923.8 378.5 925.4 378.3 927 377.6 928.5 377.4 930.1 376.8 931.7 376.7 933.3 376.7 935 376.6 936.6 375.9 938.3 376.4 939.9 375.7 941.6 375.8 943.4 376.2 944.9 375.1 946.6 374.8 948.3 375.1 950 374.7 951.7 375.1 953.3 374.1 955 374.9 956.7 374.7 958.4 374.5 960 373.9 961.7 373.6 963.4 373.8 965 373.5 966.7 373.3 968.4 373 970 372.8 971.7 372.7 973.4 372.8 975.1 372.8 976.7 372.8 978.3 371.8 980 371.8 981.7 371.8 983.4 371.7 985 371.3 986.6 371 988.3 370.7 990 370.8 991.7 370.8 993.4 371.2 995 370.9 996.7 370.7 998.4 370.7 1000 370 1001.6 370.8 1003.3 370.7 1004.9 371.2 1006.7 370.6 1008.3 371.6 1010 371.8 1011.7 371.7 1013.3 372.3 1014.9 373 1016.7 372.7 1018.3 373.2 1020 373.3 1021.5 372.7 1023.1 372.4 1024.8 372.7 1026.2 371.4 1027.8 371.2 1029.5 371.4 1031 370.8 1032.5 370.1 1034.2 370.3 1035.8 369.7 1037.4 369.6 1038.9 369 1040.5 368.8 1042.1 368.5 1043.7 368 1045.2 367.3 1046.8 367.1 1048.5 367.5 1050 366.7 1051.6 366.2 1052.9 365.3 1054.7 365.5 1056.1 364.4 1057.6 363.7 1059.2 363.6 1060.7 362.8 1062.3 362.6 1063.9 362.1 1065.3 361.3 1066.9 361.1 1068.3 360.1 1070 360 1071.7 360.1 1073.3 360.2 1075 359.7 1076.7 360.1 1078.3 359.8 1080 360.3 1081.7 360.8 1083.3 360.5 1085 360.8 1086.7 360.9 1088.3 360.2 1090 360.7 1091.2 362 1092.7 362.6 1094.5 362.9 1095.5 364.4 1097.2 364.9 1098.8 365.5 1100 366.7 1098.3 367.2 1097.1 368.5 1095.5 369.3 1094.5 370.8 1092.7 371.2 1091.7 372.8 1090 373.3 1088.8 374.5 1087.4 375.4 1086.3 376.7 1084.6 377.2 1083.5 378.6 1082.1 379.5 1080.5 380.1 1079.4 381.4 1077.7 382 1076.6 383.2 1075.1 384 1074 385.2 1072.4 385.9 1071.1 387 1070 388.3 1068.4 389.1 1066.6 388.9 1065 389.7 1063.3 389.7 1061.6 390.2 1059.9 390.5 1058.4 391.6 1056.7 391.8 1054.9 391.8 1053.2 392 1051.6 392.6 1050 393.3 1048.4 394 1046.7 393.7 1045.1 394.5 1043.3 394.2 1041.6 394.2 1040.1 395.2 1038.3 394.5 1036.7 395.1 1035.1 395.8 1033.4 396.1 1031.7 396 1030 395.8 1028.4 396.4 1026.7 396.7 1025.8 398.3 1024.6 399.6 1023.3 400.8 1021.5 401.5 1020.7 403.2 1019.2 404.2 1018.1 405.6 1016.7 406.7 1015.1 407.1 1013.7 408 1012.3 408.9 1010.5 408.7 1009.1 409.7 1007.5 410.1 1005.9 410.6 1004.4 411 1003.2 412.6 1001.6 412.9 1000 413.3 998.4 413.9 996.7 413.6 994.9 413.4 993.3 413.7 991.7 414.7 990 414.7 988.3 414.1 986.6 414.5 985 414.9 983.3 415 981.6 415.5 980.1 416.4 978.2 416.1 976.7 417.1 974.9 417.1 973.3 417.9 971.8 418.9 970.1 419.2 968.4 419.8 966.7 420 964.9 420.1 963.3 420.9 961.8 422 960.1 422.3 958.4 422.6 956.7 423 955 423.4 953.4 424.1 951.7 424.7 950 425 948.5 426 946.6 425.9 945 426.7 943.5 427.5 941.7 427.5 939.8 427.5 938.5 429 936.8 429.4 934.9 429.3 933.3 430 931.7 430.6 930 430.9 928.3 431 926.7 431.6 925 431.6 923.3 431.9 921.6 431.8 919.9 432.1 918.5 433.5 916.7 433.3 915.2 433.8 913.6 434.2 912 434.7 910.5 435.5 909.1 436.2 907.5 436.8 906.1 437.7 904.6 438.4 902.9 438.5 901.4 439 900 440 898.3 440.3 897 441.3 895.7 442.4 894 442.7 892.5 443.5 891.1 444.5 889.6 445.1 888.3 446.1 886.7 446.7 885.3 447.5 884 448.5 882.7 449.6 881.2 450.2 879.8 451 878.3 451.7 876.8 450.6 875 450.6 873.3 450 872.2 448.7 871.2 447.3 870.2 445.9 869.4 444.4 868.3 443.1 867.2 441.7 866.7 440 865.9 438.4 864.4 437.3 863.3 435.9 862.3 434.4 860.9 433.2 860 431.7 859.3 430.1 858.8 428.5 858.7 426.7 858.3 425.1 858.4 423.3 857.8 421.7 857.8 419.9 856.8 418.4 857.1 416.6 856.3 415 855.4 413.5 855.5 411.7"/>
<path d="M762.5 444 763.9 443.1 765.7 443 767.4 442.9 768.7 441.7 770.4 441.6 771.8 440.7 773.6 440.6 774.8 439.2 776.6 439.1 778.3 439 779.6 437.8 781.2 437.2 782.6 436.5 784.3 436.1 785.9 435.6 787.6 435.5 789 434.5 790.6 434.1 792.1 433.4 793.8 433.3 795.4 433 796.9 432.2 798.3 431.2 800 431 801.8 431.3 803.5 431 802.3 432.2 801.8 433.9 801.6 435.6 800.1 436.7 799.2 438.1 799 439.9 798.4 441.5 797.6 442.9 796.4 444.2 795.3 445.5 794.8 447.1 793.7 448.4 793.6 450.2 792.7 451.7 791.5 452.9 791 454.5 789.5 453.6 787.8 453 786.4 452 784.6 451.5 782.9 451 781.5 449.9 780 449 778.2 449.1 776.6 448 774.8 447.9 773.1 447.3 771.5 446.8 769.6 446.7 768 446"/>
<path d="M942.8 333.1 943.3 331.2 943.3 329.2 944.8 327.5 944.9 325.5 945 323.7 945.4 321.9 944.9 320.1 945.6 318.4 947.2 317.5 948.4 316.2 949.3 314.7 950.2 313.1 951.1 311.4 952.2 309.9 953.3 308.4 954.7 307.1 956.7 306.8 958.4 305.6 960.5 305.8 962.3 304.9 963.9 305.4 965.5 306 967.1 306.6 968.7 307.2 970.3 307.8 972 308.2 973.8 308.7 975.6 308.7 977.3 309.5 979.3 309.3 981 310.2 982.8 310.3 984.6 309.9 986.4 309.3 987.9 308.2 989.9 308 991.5 307.1 993.4 307.2 995.1 306.3 996.9 305.8 998.7 305.7 1000.6 305.7 1002.3 304.9 1003.7 303.8 1005.2 302.9 1007 302.6 1008.6 302 1010.2 301.3 1011.6 300.1 1013.2 299.5 1015 299.8 1016.6 298.8 1018.4 299.1 1020 298.2 1021.8 298.4 1023.6 297.5 1025.5 297.3 1027.4 296.8 1029.4 296.9 1030.5 298.5 1031.5 300.1 1032.7 301.7 1034.5 302.2 1035.7 303.7 1037.6 304 1039.2 304.9 1040.8 304.6 1042.5 304.8 1044 305.5 1045.6 305.8 1047.3 305.1 1048.9 305.6 1050.1 307.3 1050.1 309.6 1051.1 311.4 1049.4 312 1047.4 311.6 1045.7 312.5 1043.9 312.7 1042.1 312.7 1040.3 313.2 1038.4 312.9 1036.6 313.5 1034.8 313.6 1033.2 314.3 1031.4 314.3 1030.1 315.6 1028.2 315.5 1026.8 316.7 1025 316.7 1023.5 317.5 1021.8 317.9 1020.2 318.7 1019.5 320.4 1017.9 321.1 1016.7 322.3 1015.3 323.3 1014.3 325.1 1013.8 327 1013.6 329 1013.2 330.9 1011.4 330.4 1009.8 329.5 1008.2 328.7 1006.7 327.7 1005.1 327.6 1003.4 327.7 1001.8 327.6 1000.2 326.9 998.6 326.9 996.9 327.1 995.4 326.2 993.7 326.6 991.9 326.9 990.1 326.5 988.2 327 986.4 326.2 984.6 326.2 982.8 326.6 980.9 326.5 979.3 325.6 977.5 325.2 975.6 325.4 973.8 324.9 972 324.4 970.2 324.8 968.3 324.7 966.7 325.9 964.8 325.7 963 326.1 961.2 326.6 959.7 327.1 958.1 327.4 956.4 327.6 955.1 328.7 953.3 328.5 951.9 329.5 950.3 329.8 948.7 330.2 947.1 330.8 945.9 332.1 944.1 332.1 942.8 333.1"/>
<path d="M939.1 333.1 938.2 335.7 936.4 335.7 935.5 333.1 936.4 330.5 938.2 330.5 939.1 333.1"/>
<path d="M1102 303 1103.2 301.2 1103.1 298.9 1104 297 1105 295.3 1106.4 294 1108 293 1110 293.4 1112 292.1 1114 292.5 1115.6 293.4 1117.6 293.1 1119.3 294 1118.6 295.6 1118.9 297.4 1118 299 1116.1 300 1113.9 300.1 1112 301 1111 302.7 1109.5 303.8 1108 305 1106.3 304.5 1104.7 304.8 1103 305 1102 303"/>
<path d="M1130 296 1133 300 1135 299"/>
<path d="M1099 293.5 1098.3 294.5 1097.2 294.1 1097.2 292.9 1098.3 292.5 1099 293.5"/>
<path d="M1131.3 350.4 1133 349.9 1134.6 349.1 1135.5 347.4 1137.2 346.7 1138.8 346.1 1140.6 347 1142.5 347.4 1144.6 347.3 1146.4 348.3 1145.8 349.9 1145.3 351.5 1143.6 352 1141.9 352 1140.2 352.6 1138.5 352.9 1136.7 352.6 1135.1 351.4 1133 351.3 1131.3 350.4"/>
<path d="M1175 346 1173.3 345.1 1171.4 345 1169.7 345.3 1168.1 344.7 1166.5 345 1164.8 344.5 1163.2 344.7 1161.6 344 1159.9 344.4 1158.3 343.9 1156.7 343.5 1155.1 343.5 1153.4 343.8 1151.8 343.3 1150.2 343 1148.6 342.8 1148.7 345.1 1149.7 347.2 1151.5 347.7 1153.2 348.2 1154.7 349.6 1156.4 350.2 1158.3 350.4 1159.9 351.1 1161.6 351 1163.3 351.3 1164.9 351.8 1166.6 352 1168.2 352.4 1169.8 353.3 1171.4 353.7 1173.2 353.7 1175 354"/>
<path d="M45.4 291.5 45.1 291.8 44.7 291.7 44.7 291.3 45.1 291.2 45.4 291.5"/>
<path d="M72.5 293.6 72.3 293.9 71.9 293.8 71.9 293.4 72.3 293.3 72.5 293.6"/>
<path d="M76.6 291.5 76.4 291.8 76 291.7 76 291.3 76.4 291.2 76.6 291.5"/>
<path d="M74.6 298.8 74.4 299.1 74 299 74 298.6 74.4 298.5 74.6 298.8"/>
<path d="M158.7 225 158.4 225.3 158 225.2 158 224.8 158.4 224.7 158.7 225"/>
<path d="M165.3 221.7 165.1 222 164.7 221.9 164.7 221.5 165.1 221.4 165.3 221.7"/>
<path d="M213.7 215 213.4 215.3 213 215.2 213 214.8 213.4 214.7 213.7 215"/>
<path d="M220.3 216.7 220.1 217 219.7 216.9 219.7 216.5 220.1 216.4 220.3 216.7"/>
<path d="M227 220 226.8 220.3 226.4 220.2 226.4 219.8 226.8 219.7 227 220"/>
<path d="M230.3 226.7 230.1 227 229.7 226.9 229.7 226.5 230.1 226.4 230.3 226.7"/>
<path d="M233.7 233.3 233.4 233.6 233 233.5 233 233.1 233.4 233 233.7 233.3"/>
<path d="M237 240 236.8 240.3 236.4 240.2 236.4 239.8 236.8 239.7 237 240"/>
<path d="M247 238.3 246.8 238.6 246.4 238.5 246.4 238.1 246.8 238 247 238.3"/>
<path d="M253.7 235 253.4 235.3 253 235.2 253 234.8 253.4 234.7 253.7 235"/>
<path d="M220.3 241.7 220.1 242 219.7 241.9 219.7 241.5 220.1 241.4 220.3 241.7"/>
<path d="M215.3 248.3 215.1 248.6 214.7 248.5 214.7 248.1 215.1 248 215.3 248.3"/>
<path d="M200.3 256.7 200.1 257 199.7 256.9 199.7 256.5 200.1 256.4 200.3 256.7"/>
<path d="M172 266.7 171.8 267 171.4 266.9 171.4 266.5 171.8 266.4 172 266.7"/>
<path d="M150.3 258.3 150.1 258.6 149.7 258.5 149.7 258.1 150.1 258 150.3 258.3"/>
<path d="M130.3 256.7 130.1 257 129.7 256.9 129.7 256.5 130.1 256.4 130.3 256.7"/>
<path d="M142 275 141.8 275.3 141.4 275.2 141.4 274.8 141.8 274.7 142 275"/>
<path d="M120.3 290 120.1 290.3 119.7 290.2 119.7 289.8 120.1 289.7 120.3 290"/>
<path d="M110.3 283.3 110.1 283.6 109.7 283.5 109.7 283.1 110.1 283 110.3 283.3"/>
<path d="M83.6 278.3 83.4 278.6 83 278.5 83 278.1 83.4 278 83.6 278.3"/>
<path d="M175.3 119.5 175.1 119.8 174.7 119.7 174.7 119.3 175.1 119.2 175.3 119.5"/>
<path d="M179.1 127.5 178.9 127.8 178.5 127.7 178.5 127.3 178.9 127.2 179.1 127.5"/>
<path d="M197.3 127 197.1 127.3 196.7 127.2 196.7 126.8 197.1 126.7 197.3 127"/>
<path d="M146.6 96.2 146.4 96.6 146 96.5 146 96 146.4 95.9 146.6 96.2"/>
<path d="M122.8 90 122.6 90.3 122.2 90.2 122.2 89.8 122.6 89.7 122.8 90"/>
<path d="M120.3 100 120.1 100.3 119.7 100.2 119.7 99.8 120.1 99.7 120.3 100"/>
<path d="M259.1 123.5 258.8 123.8 258.4 123.7 258.4 123.3 258.8 123.2 259.1 123.5"/>
<path d="M255.3 119 255.1 119.3 254.7 119.2 254.7 118.8 255.1 118.7 255.3 119"/>
<path d="M368.6 225.5 368.3 225.8 367.9 225.7 367.9 225.3 368.3 225.2 368.6 225.5"/>
<path d="M384.4 208.3 384.1 208.6 383.7 208.5 383.7 208.1 384.1 208 384.4 208.3"/>
<path d="M442.9 207.5 442.6 207.8 442.2 207.7 442.2 207.3 442.6 207.2 442.9 207.5"/>
<path d="M450.4 210 450.1 210.3 449.7 210.2 449.7 209.8 450.1 209.7 450.4 210"/>
<path d="M455.4 205 455.1 205.3 454.7 205.2 454.7 204.8 455.1 204.7 455.4 205"/>
<path d="M445.4 212.5 445.1 212.8 444.7 212.7 444.7 212.3 445.1 212.2 445.4 212.5"/>
<path d="M452.9 215 452.6 215.3 452.2 215.2 452.2 214.8 452.6 214.7 452.9 215"/>
<path d="M401.4 228 401.1 228.3 400.7 228.2 400.7 227.8 401.1 227.7 401.4 228"/>
<path d="M620.4 184 620.1 184.3 619.7 184.2 619.7 183.8 620.1 183.7 620.4 184"/>
<path d="M1033.3 220.7 1033.1 221 1032.7 220.9 1032.7 220.5 1033.1 220.4 1033.3 220.7"/>
<path d="M713.4 316.2 713.1 316.5 712.7 316.4 712.7 316 713.1 315.9 713.4 316.2"/>
<path d="M819.6 178.5 819.3 178.8 818.9 178.7 818.9 178.3 819.3 178.2 819.6 178.5"/>
<path d="M267.4 74 267.1 74.3 266.7 74.2 266.7 73.8 267.1 73.7 267.4 74"/>
<path d="M272.4 78 272.1 78.3 271.7 78.2 271.7 77.8 272.1 77.7 272.4 78"/>
<path d="M275.4 72 275.1 72.3 274.7 72.2 274.7 71.8 275.1 71.7 275.4 72"/>
<path d="M270.4 84 270.1 84.3 269.7 84.2 269.7 83.8 270.1 83.7 270.4 84"/>
<path d="M264.4 88 264.1 88.3 263.7 88.2 263.7 87.8 264.1 87.7 264.4 88"/>
<path d="M277.4 86 277.1 86.3 276.7 86.2 276.7 85.8 277.1 85.7 277.4 86"/>
<path d="M261.4 81 261.1 81.3 260.7 81.2 260.7 80.8 261.1 80.7 261.4 81"/>
<path d="M268.4 94 268.1 94.3 267.7 94.2 267.7 93.8 268.1 93.7 268.4 94"/>
<path d="M264.4 100 264.1 100.3 263.7 100.2 263.7 99.8 264.1 99.7 264.4 100"/>
<path d="M281.4 76 281.1 76.3 280.7 76.2 280.7 75.8 281.1 75.7 281.4 76"/>
<path d="M254.3 93 254.1 93.3 253.7 93.2 253.7 92.8 254.1 92.7 254.3 93"/>
<path d="M259.4 102 259.1 102.3 258.7 102.2 258.7 101.8 259.1 101.7 259.4 102"/>
<path d="M265.4 108 265.1 108.3 264.7 108.2 264.7 107.8 265.1 107.7 265.4 108"/>
<path d="M738.9 150.5 738.6 150.8 738.2 150.7 738.2 150.3 738.6 150.2 738.9 150.5"/>
<path d="M722.4 133 722.1 133.3 721.7 133.2 721.7 132.8 722.1 132.7 722.4 133"/>
<path d="M472.9 565 472.6 565.3 472.2 565.2 472.2 564.8 472.6 564.7 472.9 565"/>
<path d="M1124.3 126.5 1124.1 126.8 1123.7 126.7 1123.7 126.3 1124.1 126.2 1124.3 126.5"/>
<path d="M1148.8 117.5 1148.6 117.8 1148.2 117.7 1148.2 117.3 1148.6 117.2 1148.8 117.5"/>
<path d="M1122.3 125.5 1122.1 125.8 1121.7 125.7 1121.7 125.3 1122.1 125.2 1122.3 125.5"/>
<path d="M1147.3 116 1147.1 116.3 1146.7 116.2 1146.7 115.8 1147.1 115.7 1147.3 116"/>
<path d="M95 102.5 97.5 100.5 98 104 95 102.5"/>
<path d="M126.6 117.5 125.8 119.7 124.2 119.7 123.4 117.5 124.2 115.3 125.8 115.3 126.6 117.5"/>
<path d="M121 106 120.5 108.2 119.5 108.2 119 106 119.5 103.8 120.5 103.8 121 106"/>
<path d="M45 292 50 292.5"/>
<path d="M62.8 345.7 71.1 344.7"/>
</g>
<line x1="131.6" y1="62.46" x2="131.6" y2="724.5" class="gv"/>
<line x1="235.7" y1="62.46" x2="235.7" y2="724.5" class="gv"/>
<line x1="339.8" y1="62.46" x2="339.8" y2="724.5" class="gv"/>
<line x1="443.9" y1="62.46" x2="443.9" y2="724.5" class="gv"/>
<line x1="548" y1="62.46" x2="548" y2="724.5" class="gv"/>
<line x1="652" y1="62.46" x2="652" y2="724.5" class="gv"/>
<line x1="756.1" y1="62.46" x2="756.1" y2="724.5" class="gv"/>
<line x1="860.2" y1="62.46" x2="860.2" y2="724.5" class="gv"/>
<line x1="964.3" y1="62.46" x2="964.3" y2="724.5" class="gv"/>
<line x1="1068.4" y1="62.46" x2="1068.4" y2="724.5" class="gv"/>
<line x1="26.9" y1="86.3" x2="1172.5" y2="86.3" class="gh"/>
<line x1="26.9" y1="168.6" x2="1172.5" y2="168.6" class="gh"/>
<line x1="26.9" y1="250.8" x2="1172.5" y2="250.8" class="gh"/>
<line x1="26.9" y1="333.1" x2="1172.5" y2="333.1" class="gh"/>
<line x1="26.9" y1="415.3" x2="1172.5" y2="415.3" class="gh"/>
<line x1="26.9" y1="497.6" x2="1172.5" y2="497.6" class="gh"/>
<line x1="26.9" y1="579.8" x2="1172.5" y2="579.8" class="gh"/>
<line x1="26.9" y1="662" x2="1172.5" y2="662" class="gh"/>
</g>
<rect x="27.5" y="66" width="1145.0" height="658.5" fill="none" stroke="#000" stroke-width="2"/>
<line x1="27.5" y1="63" x2="27.5" y2="66" stroke="#000" stroke-width="1"/>
<text x="27.5" y="61.6" class="tl">117E</text>
<line x1="131.6" y1="63" x2="131.6" y2="66" stroke="#000" stroke-width="1"/>
<text x="131.6" y="61.6" class="tl">118E</text>
<line x1="235.7" y1="63" x2="235.7" y2="66" stroke="#000" stroke-width="1"/>
<text x="235.7" y="61.6" class="tl">119E</text>
<line x1="339.8" y1="63" x2="339.8" y2="66" stroke="#000" stroke-width="1"/>
<text x="339.8" y="61.6" class="tl">120E</text>
<line x1="443.9" y1="63" x2="443.9" y2="66" stroke="#000" stroke-width="1"/>
<text x="443.9" y="61.6" class="tl">121E</text>
<line x1="548" y1="63" x2="548" y2="66" stroke="#000" stroke-width="1"/>
<text x="548" y="61.6" class="tl">122E</text>
<line x1="652" y1="63" x2="652" y2="66" stroke="#000" stroke-width="1"/>
<text x="652" y="61.6" class="tl">123E</text>
<line x1="756.1" y1="63" x2="756.1" y2="66" stroke="#000" stroke-width="1"/>
<text x="756.1" y="61.6" class="tl">124E</text>
<line x1="860.2" y1="63" x2="860.2" y2="66" stroke="#000" stroke-width="1"/>
<text x="860.2" y="61.6" class="tl">125E</text>
<line x1="964.3" y1="63" x2="964.3" y2="66" stroke="#000" stroke-width="1"/>
<text x="964.3" y="61.6" class="tl">126E</text>
<line x1="1068.4" y1="63" x2="1068.4" y2="66" stroke="#000" stroke-width="1"/>
<text x="1068.4" y="61.6" class="tl">127E</text>
<line x1="1172.5" y1="63" x2="1172.5" y2="66" stroke="#000" stroke-width="1"/>
<text x="1172.5" y="61.6" class="tl">128E</text>
<line x1="24" y1="86.3" x2="27" y2="86.3" stroke="#000" stroke-width="1"/>
<text x="22.5" y="88.9" class="ll">5S</text>
<line x1="24" y1="168.6" x2="27" y2="168.6" stroke="#000" stroke-width="1"/>
<text x="22.5" y="171.2" class="ll">6S</text>
<line x1="24" y1="250.8" x2="27" y2="250.8" stroke="#000" stroke-width="1"/>
<text x="22.5" y="253.4" class="ll">7S</text>
<line x1="24" y1="333.1" x2="27" y2="333.1" stroke="#000" stroke-width="1"/>
<text x="22.5" y="335.7" class="ll">8S</text>
<line x1="24" y1="415.3" x2="27" y2="415.3" stroke="#000" stroke-width="1"/>
<text x="22.5" y="417.9" class="ll">9S</text>
<line x1="24" y1="497.6" x2="27" y2="497.6" stroke="#000" stroke-width="1"/>
<text x="22.5" y="500.2" class="ll">10S</text>
<line x1="24" y1="579.8" x2="27" y2="579.8" stroke="#000" stroke-width="1"/>
<text x="22.5" y="582.4" class="ll">11S</text>
<line x1="24" y1="662" x2="27" y2="662" stroke="#000" stroke-width="1"/>
<text x="22.5" y="664.6" class="ll">12S</text>
<rect x="27.5" y="727.5" width="104.1" height="19" fill="#a0005a"/>
<rect x="131.6" y="727.5" width="104.1" height="19" fill="#a800ec"/>
<rect x="235.7" y="727.5" width="104.1" height="19" fill="#2850e0"/>
<rect x="339.8" y="727.5" width="104.1" height="19" fill="#078deb"/>
<rect x="443.9" y="727.5" width="104.1" height="19" fill="#08ec32"/>
<rect x="548" y="727.5" width="104.1" height="19" fill="#8ae60a"/>
<rect x="652" y="727.5" width="104.1" height="19" fill="#dceb0a"/>
<rect x="756.1" y="727.5" width="104.1" height="19" fill="#e8b80a"/>
<rect x="860.2" y="727.5" width="104.1" height="19" fill="#e8680a"/>
<rect x="964.3" y="727.5" width="104.1" height="19" fill="#f40000"/>
<rect x="1068.4" y="727.5" width="104.1" height="19" fill="#c00000"/>
<line x1="131.6" y1="727.5" x2="131.6" y2="746.5" stroke="#111" stroke-width="1.2"/>
<line x1="235.7" y1="727.5" x2="235.7" y2="746.5" stroke="#111" stroke-width="1.2"/>
<line x1="339.8" y1="727.5" x2="339.8" y2="746.5" stroke="#111" stroke-width="1.2"/>
<line x1="443.9" y1="727.5" x2="443.9" y2="746.5" stroke="#111" stroke-width="1.2"/>
<line x1="548" y1="727.5" x2="548" y2="746.5" stroke="#111" stroke-width="1.2"/>
<line x1="652" y1="727.5" x2="652" y2="746.5" stroke="#111" stroke-width="1.2"/>
<line x1="756.1" y1="727.5" x2="756.1" y2="746.5" stroke="#111" stroke-width="1.2"/>
<line x1="860.2" y1="727.5" x2="860.2" y2="746.5" stroke="#111" stroke-width="1.2"/>
<line x1="964.3" y1="727.5" x2="964.3" y2="746.5" stroke="#111" stroke-width="1.2"/>
<line x1="1068.4" y1="727.5" x2="1068.4" y2="746.5" stroke="#111" stroke-width="1.2"/>
<rect x="27.5" y="727.5" width="1145" height="19" fill="none" stroke="#333" stroke-width="1"/>
<text x="132.1" y="760" class="cl">-&#8201;15</text>
<text x="236.2" y="760" class="cl">-&#8201;10</text>
<text x="340.3" y="760" class="cl">-&#8201;8</text>
<text x="444.4" y="760" class="cl">-&#8201;6</text>
<text x="548.5" y="760" class="cl">-&#8201;4</text>
<text x="652.5" y="760" class="cl">-&#8201;2</text>
<text x="756.6" y="760" class="cl">0</text>
<text x="860.7" y="760" class="cl">2</text>
<text x="964.8" y="760" class="cl">5</text>
<text x="1068.9" y="760" class="cl">10</text>
<text x="34" y="25.8" style="font:20.5px 'Liberation Sans',sans-serif;fill:#111;" textLength="522" lengthAdjust="spacingAndGlyphs">Prakiraan Dew Point Temperature Lapisan 700 hPa</text>
<text x="34" y="40.8" style="font:12.8px 'Liberation Sans',sans-serif;fill:#111;stroke:#111;stroke-width:0.45;" textLength="131" lengthAdjust="spacingAndGlyphs">Valid: 03 April 2026 00Z</text>
<text x="34" y="53" style="font:11px 'Liberation Sans',sans-serif;fill:#111;" textLength="140" lengthAdjust="spacingAndGlyphs">Data inisial: 03 April 2026 00Z</text>
<text x="38" y="706.6" style="font:11.6px 'Liberation Sans',sans-serif;fill:#100008;stroke:#100008;stroke-width:0.15;" textLength="152" lengthAdjust="spacingAndGlyphs">Sumber Data: WRF - CIPS BMKG</text>
<text x="38" y="719.8" style="font:13px 'Liberation Sans',sans-serif;fill:#100008;stroke:#100008;stroke-width:0.5;" textLength="216" lengthAdjust="spacingAndGlyphs">Pusat Meteorologi Publik BMKG - 2021</text>
<text x="518.5" y="786.7" style="font:17px 'Liberation Sans',sans-serif;fill:#111;" textLength="163" lengthAdjust="spacingAndGlyphs">Dew Point (&#176;C)</text>

<g transform="translate(1162.5,28.35)">
  <clipPath id="lc"><circle r="16.3"/></clipPath>
  <g clip-path="url(#lc)">
    <rect x="-17" y="-17" width="34" height="34" fill="#fff"/>
    <rect x="-17" y="-17" width="34" height="3.7" fill="#1432d2"/>
    <rect x="-17" y="-11.3" width="34" height="2.2" fill="#1432d2"/>
    <rect x="-16" y="-7.5" width="6.5" height="1.7" fill="#1432d2"/>
    <path d="M2.5 -7.5 H14 L14.5 -5.5 H6 Q4 -6.2 2.5 -5.5Z" fill="#1432d2"/>
    <path d="M9.2 -5 H17 V-1.8 H14.5 Q12 -3.5 9.2 -5Z" fill="#1432d2"/>
    <rect x="-17" y="-0.15" width="34" height="1.45" fill="#aaa"/>
    <rect x="-17" y="2.65" width="11" height="2.3" fill="#14a014"/>
    <path d="M-17 4.6 H17 V7 H-2 Q-8 7.2 -17 7Z" fill="#14a014"/>
    <rect x="-17" y="6.65" width="14.5" height="1.65" fill="#14a014"/>
    <rect x="-17" y="9.6" width="34" height="1.7" fill="#14a014"/>
    <rect x="-17" y="12.1" width="34" height="1.7" fill="#14a014"/>
    <rect x="-10" y="14.1" width="13" height="3" fill="#14a014"/>
  </g>
</g>
<text x="1162.5" y="53" class="bm">BMKG</text>

</svg>
</body></html>
